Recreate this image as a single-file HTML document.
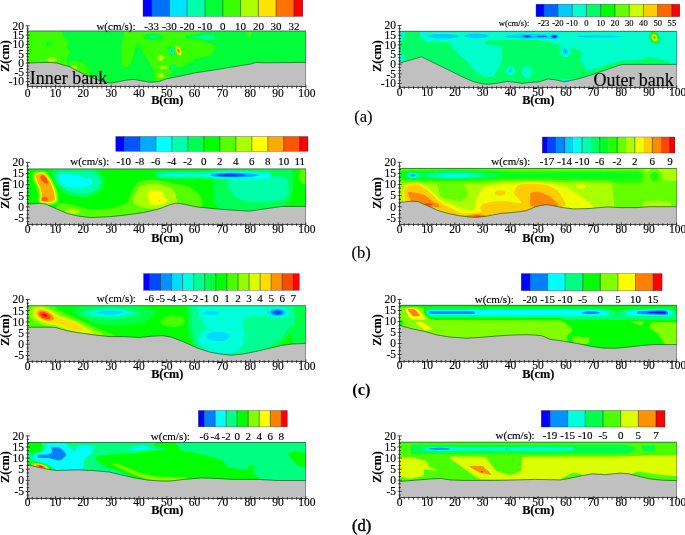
<!DOCTYPE html>
<html><head><meta charset="utf-8"><title>Vertical velocity contours</title>
<style>
html,body{margin:0;padding:0;background:#fff;}
svg{display:block;font-family:"Liberation Serif",serif;}
text{fill:#000;stroke:#000;stroke-width:0.15px;}
</style></head>
<body>
<svg width="685" height="535" viewBox="0 0 685 535">
<rect width="685" height="535" fill="#fff"/>
<g>
<clipPath id="c0"><rect x="28" y="31" width="278" height="56"/></clipPath>
<g clip-path="url(#c0)">
<rect x="28" y="31" width="278" height="56" fill="#0071ff"/>
<path d="M26.7,30 307.2,30 307.2,88 26.7,88ZM171.7,50.2 171.3,50.5 171.4,51 171.7,51.5 172.2,51.6 172.3,51Z" fill="#00e3ff"/>
<path d="M26.7,30 307.2,30 307.2,88 26.7,88ZM170.7,48.9 170.3,50 170.7,51.5 171.7,52.8 172.7,53.1 173.3,52 173,50.5 171.7,48.9Z" fill="#00ffaa"/>
<path d="M26.7,30 307.2,30 307.2,88 26.7,88ZM151.7,36 150.6,36.5 150.3,37 150.7,37.5 152.1,38 154.8,38 156.2,37.5 156.6,37 156.3,36.5 155.2,36ZM170.2,47.7 169.5,49 170,51.5 171.7,53.8 173.2,54.2 173.9,53.5 174.1,52.5 173.5,50 171.7,47.9ZM202.7,34.8 199.7,35.9 193.9,36.5 193.1,37 194.3,37.5 199.7,37.9 204.2,39 206.7,39.1 212.7,38.4 214.7,37.8 215.8,37 214.5,36 211.2,35.2 205.2,34.6ZM171.2,66.4 170.6,67.5 171.2,68.5 173.2,68.8 174.4,68 174.4,67 173.7,66.4 172.2,66.1Z" fill="#00ff39"/>
<path d="M26.7,30 61.9,30 62.7,34 63.6,36.5 67.9,40.5 68.7,42 66.8,47.5 67.4,49 69.5,51.5 69.8,52.5 69.5,53.5 67.3,56 66.6,57.5 67.4,64 67.2,65.5 65.7,66.1 59.7,66.1 55.2,65.6 48.2,65.6 44.2,65.1 37.2,65 33.2,64.6 26.7,64.6ZM48.2,41.4 46.3,42.5 45.8,43.5 46,44.5 47.1,45.5 48.2,45.9 50.7,45.4 51.8,44 51.4,42.5 50.2,41.6ZM124.5,30 200,30 200.2,32.5 199.7,33.6 198.2,34.1 191.2,34.4 186.4,35 185.7,35.5 185.6,36 185.7,38.5 186.7,39 188.7,39.3 201.2,40.1 213.7,45 215,46 215.5,47.5 215,49 212.6,53 210.7,55.1 208.7,55.8 194.7,58.9 185.2,64.9 179.7,67.7 178.7,68 177.7,67.8 176.2,65.9 174.2,64.7 171.7,64.5 169.7,65.1 169,66 169,69 169.7,69.9 172.1,71 172.4,71.5 168.2,77.4 166.7,78.9 165.2,79.8 158.7,81.8 156.7,82.1 155.5,81.5 154.7,80 152.9,70 151.5,66.5 143.5,52.5 139.2,45.8 137.2,43.8 136.2,43.9 135.5,45 134.3,52.5 130.4,65 128.7,66.6 125.2,67.6 123.5,67.5 122.4,66.5 121.7,63.5 120.7,48.5ZM150.2,33.4 146.2,34.3 143.6,36 143.3,37 143.7,38 144.9,39 146.7,39.8 151.7,40.6 157.2,40.4 161.7,39.2 163.6,37.5 163.7,36.5 162.9,35.5 160.2,34.2 155.2,33.3ZM169.7,45.9 168.9,46.5 168.3,48 168.4,50 169.1,52 170.3,54 171.7,55.4 173.2,56 174.2,55.8 175,55 175.2,53.5 174.9,51.5 174,49 173,47.5 171.7,46.3 170.7,45.9ZM248.5,31 249.7,31 250.7,31.5 251.7,33.5 251.3,36 249.7,37.4 248.7,37.4 247.7,36.9 246.6,35 246.9,32.5 247.6,31.5ZM69.7,61 71.2,60.5 79.7,62 85.2,64.4 86.2,65.7 87.4,68 90.1,74.5 90.2,76 88.7,76.3 83.7,75 77.7,71.9 72.7,71.3 70.7,70.5 69.4,69 69,67.5Z" fill="#39ff00"/>
<path d="M176.1,46 177.2,45.8 178.2,46.2 179.7,47.6 180.9,49.5 181.6,51.5 181.8,53.5 181.3,55 180.7,55.6 179.7,55.6 178.7,55.2 176.5,52.5 175.3,48.5 175.4,47ZM159.1,55.5 161.2,55.1 163.3,56 164.1,57 164.3,58 164.1,59 163.3,60 162.2,60.6 160.7,60.9 159.2,60.5 158.2,59.9 157.4,58.5 157.4,57.5 157.8,56.5ZM49.1,57.5 51.7,57 54.7,57.5 56.5,58.5 56.9,60 56.2,61 54.2,62 51.7,62.3 49.2,61.9 47.6,61 46.8,59.5 47.4,58.5ZM73.1,65 75.2,65.4 76.5,66.5 77,68 76.3,69.5 74.7,69.9 73.2,69.8 72.2,69.4 71.2,68.5 70.8,67 71.2,66 72.2,65.2ZM162.7,66 166.2,66.2 167.2,66.7 167.7,67.5 167.2,68.2 165.7,68.8 163.2,69 160.7,68.7 159.1,68 158.8,67.5 159,67 160.7,66.3ZM159.7,73 161.7,72.9 163.7,74 164.3,75.5 163.6,77 162.2,77.8 160.7,78 159.2,77.8 158,77 157.4,76 157.6,74.5 158.6,73.5Z" fill="#aaff00"/>
<path d="M176.9,47.5 178.2,47.6 179.9,49.5 180.7,52 180.7,53 180.2,53.9 179.7,54.1 178.7,53.8 176.9,51.5 176.3,49ZM159.9,57 160.7,56.8 161.7,57 162.2,57.5 162.2,58.5 161.2,59.2 160,59 159.3,58ZM161.8,67 164.7,66.8 166,67.5 164.7,68.1 162.7,68.1 161.3,67.5ZM72.8,67.5 73.7,67.2 74.3,67.5 74.3,68 73.2,68.2ZM160.1,74.5 161.7,74.6 162.2,75.1 162.1,76 161.2,76.5 159.7,76.2 159.3,75.5Z" fill="#ffe300"/>
<path d="M177.2,49 177.7,48.6 178.2,48.7 179.2,49.6 179.9,51.5 179.7,52.6 178.7,52.7 177.7,51.7 177.2,50.5Z" fill="#ff7100"/>
<path d="M178.1,50.5 178.2,50.2 178.7,50.5 178.7,51.3Z" fill="#ff0000"/>
<polygon points="25.7,88.6 25.7,63 27.7,63 38.8,62.6 50,62.4 56.6,63 69.4,66.7 83.3,74 97.2,79.7 105.6,82.3 111.2,83.1 119.5,81.6 125.1,80.3 133.4,79.4 139,80.3 150.1,82.3 158.5,81.6 166.8,78.8 180.7,76 194.6,73 222.4,68.6 250.3,64.1 255.8,62.4 264.2,62.8 305.9,62.4 307.9,62.4 307.9,88.6" fill="#c0c0c0"/>
<polyline points="27.7,63 38.8,62.6 50,62.4 56.6,63 69.4,66.7 83.3,74 97.2,79.7 105.6,82.3 111.2,83.1 119.5,81.6 125.1,80.3 133.4,79.4 139,80.3 150.1,82.3 158.5,81.6 166.8,78.8 180.7,76 194.6,73 222.4,68.6 250.3,64.1 255.8,62.4 264.2,62.8 305.9,62.4" fill="none" stroke="#1a5a1a" stroke-width="0.7"/>
</g>
<line x1="27.7" x2="305.9" y1="31" y2="31" stroke="#1d5c3a" stroke-width="0.9" opacity="0.85"/>
<line x1="305.5" x2="305.5" y1="31" y2="86.6" stroke="#444" stroke-width="0.6" opacity="0.7"/>
<path d="M27.5,25.8V86.5H305.9" stroke="#3a3a3a" stroke-width="0.9" fill="none"/>
<path d="M25.7,25.8h4M26.5,28.9h2.6M26.5,32h2.6M25.7,35.1h4M26.5,38.2h2.6M26.5,41.3h2.6M25.7,44.4h4M26.5,47.5h2.6M26.5,50.6h2.6M25.7,53.7h4M26.5,56.8h2.6M26.5,59.9h2.6M25.7,63h4M26.5,66.1h2.6M26.5,69.2h2.6M25.7,72.3h4M26.5,75.4h2.6M26.5,78.5h2.6M25.7,81.6h4M26.5,84.7h2.6M27.7,84.8v3.8M32.3,85.6v2.8M37,85.6v2.8M41.6,85.6v2.8M46.2,85.6v2.8M50.9,85.6v2.8M55.5,84.8v3.8M60.2,85.6v2.8M64.8,85.6v2.8M69.4,85.6v2.8M74.1,85.6v2.8M78.7,85.6v2.8M83.3,84.8v3.8M88,85.6v2.8M92.6,85.6v2.8M97.2,85.6v2.8M101.9,85.6v2.8M106.5,85.6v2.8M111.2,84.8v3.8M115.8,85.6v2.8M120.4,85.6v2.8M125.1,85.6v2.8M129.7,85.6v2.8M134.3,85.6v2.8M139,84.8v3.8M143.6,85.6v2.8M148.3,85.6v2.8M152.9,85.6v2.8M157.5,85.6v2.8M162.2,85.6v2.8M166.8,84.8v3.8M171.4,85.6v2.8M176.1,85.6v2.8M180.7,85.6v2.8M185.3,85.6v2.8M190,85.6v2.8M194.6,84.8v3.8M199.3,85.6v2.8M203.9,85.6v2.8M208.5,85.6v2.8M213.2,85.6v2.8M217.8,85.6v2.8M222.4,84.8v3.8M227.1,85.6v2.8M231.7,85.6v2.8M236.3,85.6v2.8M241,85.6v2.8M245.6,85.6v2.8M250.3,84.8v3.8M254.9,85.6v2.8M259.5,85.6v2.8M264.2,85.6v2.8M268.8,85.6v2.8M273.4,85.6v2.8M278.1,84.8v3.8M282.7,85.6v2.8M287.4,85.6v2.8M292,85.6v2.8M296.6,85.6v2.8M301.3,85.6v2.8M305.9,84.8v3.8" stroke="#222" stroke-width="0.85" fill="none"/>
<text x="24.1" y="29.6" font-size="11.5" text-anchor="end">20</text>
<text x="24.1" y="38.9" font-size="11.5" text-anchor="end">15</text>
<text x="24.1" y="48.2" font-size="11.5" text-anchor="end">10</text>
<text x="24.1" y="57.5" font-size="11.5" text-anchor="end">5</text>
<text x="24.1" y="66.8" font-size="11.5" text-anchor="end">0</text>
<text x="24.1" y="76.1" font-size="11.5" text-anchor="end">-5</text>
<text x="24.1" y="85.4" font-size="11.5" text-anchor="end">-10</text>
<text x="27.7" y="96.5" font-size="11.5" text-anchor="middle">0</text>
<text x="55.5" y="96.5" font-size="11.5" text-anchor="middle">10</text>
<text x="83.3" y="96.5" font-size="11.5" text-anchor="middle">20</text>
<text x="111.2" y="96.5" font-size="11.5" text-anchor="middle">30</text>
<text x="139" y="96.5" font-size="11.5" text-anchor="middle">40</text>
<text x="166.8" y="96.5" font-size="11.5" text-anchor="middle">50</text>
<text x="194.6" y="96.5" font-size="11.5" text-anchor="middle">60</text>
<text x="222.4" y="96.5" font-size="11.5" text-anchor="middle">70</text>
<text x="250.3" y="96.5" font-size="11.5" text-anchor="middle">80</text>
<text x="278.1" y="96.5" font-size="11.5" text-anchor="middle">90</text>
<text x="306.9" y="96.5" font-size="11.5" text-anchor="middle">100</text>
<text transform="translate(9.3,56) rotate(-90)" font-size="12" font-weight="bold" text-anchor="middle">Z(cm)</text>
<text x="167.2" y="104.4" font-size="12.3" font-weight="bold" text-anchor="middle">B(cm)</text>
<rect x="143" y="-1" width="9" height="17.4" fill="#0000ff"/>
<rect x="151.7" y="-1" width="18.1" height="17.4" fill="#0071ff"/>
<rect x="169.5" y="-1" width="18.1" height="17.4" fill="#00e3ff"/>
<rect x="187.2" y="-1" width="18.1" height="17.4" fill="#00ffaa"/>
<rect x="205" y="-1" width="18.1" height="17.4" fill="#00ff39"/>
<rect x="222.8" y="-1" width="18.1" height="17.4" fill="#39ff00"/>
<rect x="240.6" y="-1" width="18.1" height="17.4" fill="#aaff00"/>
<rect x="258.4" y="-1" width="18.1" height="17.4" fill="#ffe300"/>
<rect x="276.1" y="-1" width="18.1" height="17.4" fill="#ff7100"/>
<rect x="293.9" y="-1" width="9" height="17.4" fill="#ff0000"/>
<path d="M151.7,-1V16.4M169.5,-1V16.4M187.2,-1V16.4M205,-1V16.4M222.8,-1V16.4M240.6,-1V16.4M258.4,-1V16.4M276.1,-1V16.4M293.9,-1V16.4" stroke="#123" stroke-width="0.6" fill="none" opacity="0.85"/>
<rect x="143" y="-1" width="159.6" height="17.4" fill="none" stroke="#334" stroke-width="0.5" opacity="0.7"/>
<text x="151.7" y="29.5" font-size="11" text-anchor="middle">-33</text>
<text x="169.5" y="29.5" font-size="11" text-anchor="middle">-30</text>
<text x="187.2" y="29.5" font-size="11" text-anchor="middle">-20</text>
<text x="205" y="29.5" font-size="11" text-anchor="middle">-10</text>
<text x="222.8" y="29.5" font-size="11" text-anchor="middle">0</text>
<text x="240.6" y="29.5" font-size="11" text-anchor="middle">10</text>
<text x="258.4" y="29.5" font-size="11" text-anchor="middle">20</text>
<text x="276.1" y="29.5" font-size="11" text-anchor="middle">30</text>
<text x="293.9" y="29.5" font-size="11" text-anchor="middle">32</text>
<text x="135.5" y="29.5" font-size="11" text-anchor="end">w(cm/s):</text>
<text x="29.7" y="84" font-size="18">Inner bank</text>
</g>
<g>
<clipPath id="c1"><rect x="400" y="31" width="277" height="56"/></clipPath>
<g clip-path="url(#c1)">
<rect x="400" y="31" width="277" height="56" fill="#0000ff"/>
<path d="M398.6,30.3 678.1,30.3 678.1,88.3 398.6,88.3ZM526.1,36.1 525.7,36.3 525.9,36.8 527.1,37 528.3,36.8 528.5,36.3 527.1,35.9ZM553.6,35.7 552.7,36.3 552.7,36.8 553.5,37.3 555.1,37.3 555.9,36.8 555.9,36.3 555.3,35.8Z" fill="#0066ff"/>
<path d="M398.6,30.3 678.1,30.3 678.1,88.3 398.6,88.3ZM525.1,35.3 522.9,36.3 523.1,36.8 524,37.3 525.6,37.7 529.6,37.5 531.6,36.8 531.7,36.3 528.6,35.2ZM539.6,35.8 536.2,36.3 536.4,36.8 540.1,37.3 545.1,37.1 546.6,36.8 546.7,36.3 544.1,35.8ZM552.6,35.2 550.6,36.3 550.7,36.8 552.6,37.9 555.6,38 556.6,37.6 557.3,36.8 557,35.8 556.1,35.2 554.6,34.9ZM564.6,50.6 564.6,52 565.1,52.4 565.8,52.3 566.2,51.8 566,50.8 565.1,50.4Z" fill="#00ccff"/>
<path d="M398.6,30.3 678.1,30.3 678.1,88.3 398.6,88.3ZM434.6,34.3 429.1,35.2 427.6,35.8 427.2,36.3 427.5,36.8 429.6,37.6 435.6,38.5 443.1,38.7 450.1,38.4 456.6,37.4 459.3,36.3 458.8,35.8 457.2,35.3 449.6,34.2 442.1,33.9ZM472.6,33.8 467.6,34.6 464.4,35.8 464.3,36.3 465.4,36.8 469.9,37.8 475.1,38.3 481.1,38.2 486.6,37.3 488.7,36.3 488.6,35.8 487.6,35.1 483.6,34 478.1,33.6ZM523.1,34.3 511.6,34.9 505.4,35.8 504.1,36.3 504.2,36.8 509.6,37.7 527.1,38.6 549.1,38.4 554.6,39.2 557.6,38.4 559.4,36.8 559.2,35.8 558.1,34.9 555.1,33.9 549.1,34.7 527.6,34ZM564.1,48.5 563.1,49.3 562.6,50.3 562.8,52.3 563.6,53.6 564.6,54.2 566.6,54.2 567.9,52.8 568.1,51.8 567.8,50.3 566.1,48.6ZM591.1,35.3 581.6,35.7 576.5,36.3 576.7,36.8 578.6,37.1 587.6,37.6 611.6,37.6 619.6,37 621.1,36.8 621.3,36.3 610.6,35.4ZM510.1,68.7 509.1,69.4 508.7,70.8 509.3,72.3 510.6,72.8 511.9,71.8 512.1,70.3 511.6,69.2ZM565.1,80.2 564.8,80.8 567,81.3 570.8,80.8 570.7,80.3 569.1,79.9Z" fill="#00ffcc"/>
<path d="M404.9,30.3 418.9,30.3 420.1,36.8 424.1,40.6 426.1,41.8 446.6,42.1 448.6,42.5 449.6,43.3 453.1,49 459.9,55.8 467.1,60.9 473.1,68.8 481.6,75.3 484.6,76.5 491.1,77 492.6,76.8 493.6,76.3 500.5,64.3 501.4,62.3 501.8,60.3 501.8,48.8 501.2,46.8 499.6,46.1 486.1,44.2 485.2,43.3 485.2,41.8 486.1,40.9 487.6,40.6 523.6,39.6 537.5,40.3 545.1,41.1 555.6,43.7 560.4,45.8 561,46.8 559.6,50.3 559.9,53.3 560.7,54.8 562.1,56.2 563.6,57 565.1,57.3 567.6,56.9 569.7,55.3 571,52.3 570.5,48.3 571.1,47.7 572.6,47.8 578.1,50.1 581.4,52.3 581.7,53.8 580.4,58.3 580.4,60.3 584.6,66.8 585.1,69.8 586.1,70.3 587.6,70.2 621.1,60.7 626.1,60.3 630.1,60.5 642.1,59.4 648.6,56.5 667.6,60.7 668.9,61.8 670.4,64.8 669.8,65.8 668.6,66 623.6,66.2 585.6,78.2 578.1,81.5 568.6,87.2 567.7,88.3 399.2,88.3 399.3,65.3 400.1,63.8 404.1,60.8 404.6,59.8 404.8,57.8 404.7,55.8 404.1,54.5 400.6,52.5 399.5,51.3 399.2,49.3 399.2,42.8 400.1,41.1 403.6,40.2 404.5,39.3 404.8,37.8ZM509.1,66.2 507.6,67 506.5,68.3 505.9,69.8 506,71.8 506.6,73.3 508.1,74.8 509.6,75.4 511.6,75.3 513.1,74.6 514.4,73.3 515.1,71.8 515.1,69.8 514.1,67.8 512.6,66.5 511.1,66ZM525.6,66.2 523.8,67.3 522.6,68.8 521.8,70.8 521.9,73.3 522.8,75.3 524.1,76.8 526.1,77.7 528.1,77.7 530.1,76.7 531.6,74.8 532.2,72.8 532.1,70.3 531.2,68.3 529.6,66.7 527.6,66ZM564.1,79.2 561.8,79.8 561,80.3 560.9,80.8 562.1,81.5 564.1,82 570.6,82.1 573.6,81.5 574.7,80.8 574.6,80.3 573.8,79.8 571.1,79.2 567.6,79ZM652.1,30.8 654.6,30.9 656.6,32 658.3,33.8 659.8,36.8 660.2,39.3 659.8,41.8 658.6,43.7 657.1,44.5 655.1,44.6 652.6,43.5 650.6,41.3 649.3,38.8 648.9,36.3 649.2,33.8 650.3,31.8Z" fill="#00ff66"/>
<path d="M652.1,32.8 653.6,32.4 655.1,32.8 656.6,33.9 658,35.8 658.7,37.8 658.7,39.8 658.2,41.3 657.1,42.5 655.6,42.9 654.1,42.6 652.6,41.6 651.2,39.8 650.4,37.8 650.3,35.8 651,33.8ZM582.3,72.3 583.1,72 583.9,72.8 583.1,75.8 582.6,76.2 582,73.8Z" fill="#00ff00"/>
<path d="M652.6,33.8 653.6,33.5 655.1,33.9 656.3,34.8 657.3,36.3 657.9,39.3 657.3,40.8 656.6,41.5 655.6,41.8 654.1,41.5 653,40.8 651.9,39.3 651.3,37.8 651.2,35.8 651.6,34.8Z" fill="#66ff00"/>
<path d="M652.8,34.8 653.6,34.4 654.6,34.5 655.6,35.1 656.6,36.3 657.2,38.8 656.9,39.8 656.1,40.7 655.1,40.9 654.1,40.7 652.6,39.2 651.9,36.8 652.1,35.7Z" fill="#ccff00"/>
<path d="M654.1,35.3 655.3,35.8 656.3,37.3 656.4,38.8 655.6,39.9 654.1,39.8 653.1,38.8 652.7,37.8 652.6,36.8 653,35.8Z" fill="#ffcc00"/>
<path d="M653.6,36.8 654.1,36.4 655.1,36.8 655.6,37.8 655.2,38.8 654.1,38.7 653.5,37.8Z" fill="#ff6600"/>
<polygon points="397.6,89.3 397.6,63.1 399.6,63.1 421.5,56.8 447.8,69.6 464.7,77.9 473.3,81.6 481.9,83.7 488.3,84.3 496.6,83.3 507.1,81.4 513.5,82.1 522.1,83.3 534.8,82.1 538.1,82.1 547.8,79 554.2,79.6 564.8,81.8 577.5,79 590,75.4 604.9,70.2 619.6,65.1 624.1,64.4 676.7,64.4 678.7,64.4 678.7,89.3" fill="#c0c0c0"/>
<polyline points="399.6,63.1 421.5,56.8 447.8,69.6 464.7,77.9 473.3,81.6 481.9,83.7 488.3,84.3 496.6,83.3 507.1,81.4 513.5,82.1 522.1,83.3 534.8,82.1 538.1,82.1 547.8,79 554.2,79.6 564.8,81.8 577.5,79 590,75.4 604.9,70.2 619.6,65.1 624.1,64.4 676.7,64.4" fill="none" stroke="#1a5a1a" stroke-width="0.7"/>
</g>
<line x1="399.6" x2="676.7" y1="31.3" y2="31.3" stroke="#1d5c3a" stroke-width="0.9" opacity="0.85"/>
<line x1="676.5" x2="676.5" y1="31.3" y2="87.3" stroke="#444" stroke-width="0.6" opacity="0.7"/>
<path d="M399.5,25.5V87.5H676.7" stroke="#3a3a3a" stroke-width="0.9" fill="none"/>
<path d="M397.6,25.5h4M398.4,28.7h2.6M398.4,31.9h2.6M397.6,35.2h4M398.4,38.4h2.6M398.4,41.6h2.6M397.6,44.8h4M398.4,48.1h2.6M398.4,51.3h2.6M397.6,54.5h4M398.4,57.7h2.6M398.4,60.9h2.6M397.6,64.2h4M398.4,67.4h2.6M398.4,70.6h2.6M397.6,73.8h4M398.4,77h2.6M398.4,80.3h2.6M397.6,83.5h4M398.4,86.7h2.6M399.6,85.5v3.8M404.2,86.3v2.8M408.8,86.3v2.8M413.5,86.3v2.8M418.1,86.3v2.8M422.7,86.3v2.8M427.3,85.5v3.8M431.9,86.3v2.8M436.5,86.3v2.8M441.2,86.3v2.8M445.8,86.3v2.8M450.4,86.3v2.8M455,85.5v3.8M459.6,86.3v2.8M464.3,86.3v2.8M468.9,86.3v2.8M473.5,86.3v2.8M478.1,86.3v2.8M482.7,85.5v3.8M487.3,86.3v2.8M492,86.3v2.8M496.6,86.3v2.8M501.2,86.3v2.8M505.8,86.3v2.8M510.4,85.5v3.8M515.1,86.3v2.8M519.7,86.3v2.8M524.3,86.3v2.8M528.9,86.3v2.8M533.5,86.3v2.8M538.1,85.5v3.8M542.8,86.3v2.8M547.4,86.3v2.8M552,86.3v2.8M556.6,86.3v2.8M561.2,86.3v2.8M565.9,85.5v3.8M570.5,86.3v2.8M575.1,86.3v2.8M579.7,86.3v2.8M584.3,86.3v2.8M589,86.3v2.8M593.6,85.5v3.8M598.2,86.3v2.8M602.8,86.3v2.8M607.4,86.3v2.8M612,86.3v2.8M616.7,86.3v2.8M621.3,85.5v3.8M625.9,86.3v2.8M630.5,86.3v2.8M635.1,86.3v2.8M639.8,86.3v2.8M644.4,86.3v2.8M649,85.5v3.8M653.6,86.3v2.8M658.2,86.3v2.8M662.8,86.3v2.8M667.5,86.3v2.8M672.1,86.3v2.8M676.7,85.5v3.8" stroke="#222" stroke-width="0.85" fill="none"/>
<text x="396" y="29.3" font-size="11.5" text-anchor="end">20</text>
<text x="396" y="39" font-size="11.5" text-anchor="end">15</text>
<text x="396" y="48.6" font-size="11.5" text-anchor="end">10</text>
<text x="396" y="58.3" font-size="11.5" text-anchor="end">5</text>
<text x="396" y="68" font-size="11.5" text-anchor="end">0</text>
<text x="396" y="77.6" font-size="11.5" text-anchor="end">-5</text>
<text x="396" y="87.3" font-size="11.5" text-anchor="end">-10</text>
<text x="399.6" y="96" font-size="11.5" text-anchor="middle">0</text>
<text x="427.3" y="96" font-size="11.5" text-anchor="middle">10</text>
<text x="455" y="96" font-size="11.5" text-anchor="middle">20</text>
<text x="482.7" y="96" font-size="11.5" text-anchor="middle">30</text>
<text x="510.4" y="96" font-size="11.5" text-anchor="middle">40</text>
<text x="538.1" y="96" font-size="11.5" text-anchor="middle">50</text>
<text x="565.9" y="96" font-size="11.5" text-anchor="middle">60</text>
<text x="593.6" y="96" font-size="11.5" text-anchor="middle">70</text>
<text x="621.3" y="96" font-size="11.5" text-anchor="middle">80</text>
<text x="649" y="96" font-size="11.5" text-anchor="middle">90</text>
<text x="677.7" y="96" font-size="11.5" text-anchor="middle">100</text>
<text transform="translate(381,56) rotate(-90)" font-size="12" font-weight="bold" text-anchor="middle">Z(cm)</text>
<text x="538.2" y="104.2" font-size="12.3" font-weight="bold" text-anchor="middle">B(cm)</text>
<rect x="536" y="4.2" width="8" height="12.5" fill="#0000ff"/>
<rect x="543.7" y="4.2" width="14.5" height="12.5" fill="#0066ff"/>
<rect x="557.9" y="4.2" width="14.5" height="12.5" fill="#00ccff"/>
<rect x="572.2" y="4.2" width="14.5" height="12.5" fill="#00ffcc"/>
<rect x="586.4" y="4.2" width="14.5" height="12.5" fill="#00ff66"/>
<rect x="600.7" y="4.2" width="14.5" height="12.5" fill="#00ff00"/>
<rect x="614.9" y="4.2" width="14.5" height="12.5" fill="#66ff00"/>
<rect x="629.2" y="4.2" width="14.5" height="12.5" fill="#ccff00"/>
<rect x="643.4" y="4.2" width="14.5" height="12.5" fill="#ffcc00"/>
<rect x="657.7" y="4.2" width="14.5" height="12.5" fill="#ff6600"/>
<rect x="671.9" y="4.2" width="8" height="12.5" fill="#ff0000"/>
<path d="M543.7,4.2V16.7M557.9,4.2V16.7M572.2,4.2V16.7M586.4,4.2V16.7M600.7,4.2V16.7M614.9,4.2V16.7M629.2,4.2V16.7M643.4,4.2V16.7M657.7,4.2V16.7M671.9,4.2V16.7" stroke="#123" stroke-width="0.6" fill="none" opacity="0.85"/>
<rect x="536" y="4.2" width="143.6" height="12.5" fill="none" stroke="#334" stroke-width="0.5" opacity="0.7"/>
<text x="543.7" y="26.3" font-size="8.6" text-anchor="middle">-23</text>
<text x="557.9" y="26.3" font-size="8.6" text-anchor="middle">-20</text>
<text x="572.2" y="26.3" font-size="8.6" text-anchor="middle">-10</text>
<text x="586.4" y="26.3" font-size="8.6" text-anchor="middle">0</text>
<text x="600.7" y="26.3" font-size="8.6" text-anchor="middle">10</text>
<text x="614.9" y="26.3" font-size="8.6" text-anchor="middle">20</text>
<text x="629.2" y="26.3" font-size="8.6" text-anchor="middle">30</text>
<text x="643.4" y="26.3" font-size="8.6" text-anchor="middle">40</text>
<text x="657.7" y="26.3" font-size="8.6" text-anchor="middle">50</text>
<text x="671.9" y="26.3" font-size="8.6" text-anchor="middle">55</text>
<text x="529.3" y="26.3" font-size="8.6" text-anchor="end">w(cm/s):</text>
<text x="593.4" y="85.8" font-size="18">Outer bank</text>
</g>
<g>
<clipPath id="c2"><rect x="28" y="169" width="278" height="55"/></clipPath>
<g clip-path="url(#c2)">
<rect x="28" y="169" width="278" height="55" fill="#0000ff"/>
<path d="M26.7,167.9 307.2,167.9 307.2,225.4 26.7,225.4ZM226.2,174.4 222.9,174.9 223.6,175.4 225.7,175.6 232.2,175.6 233.9,175.4 234.8,174.9 231.6,174.4Z" fill="#0055ff"/>
<path d="M26.7,167.9 307.2,167.9 307.2,225.4 26.7,225.4ZM219.7,173.9 216.8,174.4 215.8,174.9 216,175.4 218.7,176.1 223.7,176.5 236.7,176.5 242.2,175.9 245,175.4 245.9,174.9 244.8,174.4 241.7,174 234.7,173.5 226.7,173.5Z" fill="#00aaff"/>
<path d="M26.7,167.9 307.2,167.9 307.2,225.4 26.7,225.4ZM222.2,172.9 213.2,173.7 210.7,174.4 210.1,174.9 210.4,175.4 213.3,176.4 220.2,177.1 233.2,177.6 251.2,176.7 257.5,175.9 258.8,175.4 259,174.9 255.2,173.9 247.2,173.2 233.2,172.7Z" fill="#00ffff"/>
<path d="M26.7,167.9 307.2,167.9 307.2,225.4 26.7,225.4ZM64.2,173.9 60.8,174.4 59.2,175.4 58.6,177.4 59.1,179.9 60.3,181.9 62.2,183.7 64.7,185.1 69.2,186.9 72.7,187.6 75.2,187.6 84.7,187 88.7,184.9 89.7,184.9 93.2,182.9 93.2,181.9 92.7,181.4 92.7,180.9 90.7,178.9 89.2,178.8 88.7,178.3 84.7,177.8 72.2,174.5ZM215.7,172.4 197.2,174.4 180.7,173.7 169.2,173.9 164,174.4 162,174.9 163.3,175.4 167.5,175.9 179.7,176.3 197.7,175.5 210.2,176.8 216.2,177.8 228.2,178.2 233.7,179 267.2,178.6 268.7,178.1 269.4,176.9 269.3,175.4 268.7,174.1 267.7,173.4 266.2,173.2 239.2,172 225.7,172Z" fill="#00ffaa"/>
<path d="M26.7,167.9 307.2,167.9 307.2,225.4 26.7,225.4ZM59.2,171.4 56.7,172.6 55.6,174.9 55.7,177.9 57.1,181.9 58.9,184.4 61.8,186.9 67.2,190.8 71.2,192.6 82.2,194.1 87.2,193.6 93.8,190.9 97.2,188.9 99.2,186.8 100.6,183.9 100.8,180.9 99.6,177.9 96.5,174.4 94.6,172.9 92.7,172 88.2,171.4 65.2,171ZM218.2,170.9 215.7,171.1 210.7,172 203.7,172.3 159.7,172.6 157.7,173.3 156.9,174.4 157,175.9 158.4,176.9 166.7,177.4 205.2,177.7 211.2,178 216.7,179.3 227.7,179.6 228.6,179.9 229.2,180.9 228,185.4 228.4,187.4 235.4,196.9 236.7,197.9 239,198.9 249.7,202.1 255.2,202.1 282.2,199.9 283.7,199.3 285.2,198.1 287.7,195.1 288.7,193.3 288.9,191.4 288.7,188.9 287.1,179.9 286.2,177.7 284.2,176.7 273.2,176 272.2,175.3 270.3,172.4 268.7,171.5 265.7,171.2 245.7,170.8Z" fill="#00ff55"/>
<path d="M26.7,167.9 56.4,167.9 54.7,169 53,170.9 52.3,172.9 52.1,174.9 52.8,177.4 54.8,182.4 56.2,185 58.2,187.8 64.3,192.9 68.7,195.4 73.2,196.5 83.2,197.6 86.2,197.4 89.2,196.6 97.7,192.7 101.3,189.9 102.6,187.9 103.7,185.4 104.3,182.9 104.3,180.4 104,178.9 102.8,176.4 97.8,170.9 95.2,169.1 92.7,167.9 213.4,167.9 213.2,169.4 212.8,169.9 211.7,170.5 210.2,170.8 158.2,171.1 156.2,171.7 155.2,172.4 154.4,173.9 154.4,175.9 155.2,177.2 156.2,177.9 160.2,178.6 209.2,179.2 212.2,179.8 213.2,180.8 213.4,181.9 213.5,199.4 213.9,202.4 215.7,205.3 221.2,212.2 223.2,213.1 226.2,213.2 271.2,211 274.4,209.9 287.2,203.5 288.7,202.3 289.8,200.4 291.8,193.4 294.1,182.4 294.2,179.4 292,167.9 307.2,167.9 307.2,225.4 26.7,225.4Z" fill="#00ff00"/>
<path d="M301.8,168.4 302.5,167.9 307.2,167.9 307.2,184.4 304.7,184.5 302.2,183.4 300.2,181.4 299,178.9 298.5,175.9 298.9,172.9 300,170.4ZM38.3,170.9 42.7,170.6 45.7,171.6 48.1,173.9 52,179.4 56.6,189.4 57.6,192.4 58.6,199.9 58.2,201.9 57.2,203.1 51.7,205.2 48.7,205.6 41.7,204.7 39.7,203.8 38.4,202.4 37.7,199.9 38.4,195.9 38.2,192.9 36.7,187.8 32.9,179.4 32,174.9 32.5,172.9 33.6,171.9ZM151.1,179.4 153.2,179.4 163.2,181 173.2,183.4 186.7,185.6 190.1,186.9 198.2,193.5 199.9,195.4 200.7,196.9 202.3,202.9 202.4,204.9 201.3,206.9 199.3,207.9 167.2,214 139.2,218.3 90.7,222.6 86.2,222.4 62.7,218.6 60.7,217.7 59.2,216.4 55.9,210.9 55.7,208.4 57.2,205.6 58.7,203.7 60.2,202.9 61.7,202.6 64.7,202.9 86.2,208.6 90.2,209.2 96.2,209.2 109.7,208.5 122.8,204.9 125.7,203.6 127.2,202 132,190.9 135.7,184.9 137.7,182.6 139.2,181.6 141.7,180.8Z" fill="#55ff00"/>
<path d="M40.5,171.9 42.7,171.9 44.2,172.3 46.9,174.4 51.4,180.4 55.4,189.4 56.5,193.9 57.1,199.9 56.7,200.9 55.8,201.9 52.2,203.6 48.7,204.3 42.7,203.6 40.7,202.8 39.2,200.9 39,199.4 39.7,194.9 39.2,191.4 37.8,186.9 34.5,179.9 33.4,175.4 33.8,173.9 35,172.9ZM150,183.9 155.2,183.7 160.7,184.6 168.2,187 171.7,188.6 173.5,189.9 175.7,193.4 176,197.9 177.3,200.4 177,202.4 175.7,204.9 173.7,206.1 162.7,208.1 156.2,208.7 151.2,208.8 146.2,208.2 141.7,207.1 137.7,205.6 134.2,203.4 133.4,202.4 133.1,200.9 133.7,197.3 135.7,192.4 138.7,187.9 140.1,186.4 141.8,185.4ZM70.8,208.4 74.2,208.6 77.1,209.4 78.8,210.4 79.5,211.9 78,213.4 74.7,214.4 70.7,214.5 67.2,213.7 65.1,212.4 64.7,211.4 65.1,210.4 67.2,209Z" fill="#aaff00"/>
<path d="M40.3,172.9 43.2,172.9 45.2,173.9 49.8,179.4 51.2,181.9 54.8,190.4 56.1,197.9 56.1,199.4 55.7,200.4 53.2,202.1 50.2,203.1 47.2,203.2 42.2,202.5 41,201.9 40.2,200.9 39.9,199.4 40.7,195.4 40.3,191.9 38.8,186.9 35.4,179.4 34.5,175.9 34.7,174.8 35.5,173.9ZM150.1,190.4 156.2,190.2 161.4,190.9 162.6,192.4 164.2,197.3 167.4,199.9 167.5,200.9 164.6,202.9 160.2,204.5 152.7,204.7 151.1,204.4 150.1,202.9 148.1,196.4 148.5,192.4 149.2,191ZM70.2,210.9 72.7,210.5 74.1,210.9 74.4,211.4 73.7,212 71.7,212.3 70.4,211.9 70,211.4Z" fill="#ffff00"/>
<path d="M40.3,173.9 42.7,173.7 44.7,174.6 46.7,176.8 49.8,181.4 53.2,189.4 54.2,192.9 54.9,198.9 54.5,199.9 53.2,200.9 49.2,202.1 44.7,202.1 42.2,201.6 40.9,200.4 40.8,198.9 41.9,194.9 41.5,191.9 40.1,186.9 36.7,179.7 35.8,176.4 36,175.4 36.5,174.9ZM159,199.9 159.7,199.5 160.2,200.3 160.2,201 159.7,201.8 159,201.4Z" fill="#ffaa00"/>
<path d="M41.1,175.4 42.2,175 43.7,175.2 45.9,177.4 47.1,179.4 47.9,181.4 47.8,182.9 47.2,183.6 46.2,183.7 44.7,183.2 42.2,180.9 40.9,178.9 40.2,176.9 40.5,175.9ZM43.4,196.9 44.7,196.5 46.7,197.4 47.9,198.9 47.7,199.9 46.7,200.5 44.7,201 43.2,200.9 42.2,200.4 41.9,198.9 42.7,197.5Z" fill="#ff5500"/>
<polygon points="25.7,226.3 25.7,204.2 27.7,204.2 39.9,203.3 46.1,204.2 56.6,208.9 67.2,213.4 77.8,216 90.6,217.6 109.8,216.7 126.7,214.9 143.4,212.5 156.2,209.6 162.9,207.6 169.6,204.7 175.7,203.1 184,204.2 196.8,206.9 216,208.9 232.7,210.2 249.7,211.1 264.7,208.9 281.4,206.5 305.9,206.5 307.9,206.5 307.9,226.3" fill="#c0c0c0"/>
<polyline points="27.7,204.2 39.9,203.3 46.1,204.2 56.6,208.9 67.2,213.4 77.8,216 90.6,217.6 109.8,216.7 126.7,214.9 143.4,212.5 156.2,209.6 162.9,207.6 169.6,204.7 175.7,203.1 184,204.2 196.8,206.9 216,208.9 232.7,210.2 249.7,211.1 264.7,208.9 281.4,206.5 305.9,206.5" fill="none" stroke="#1a5a1a" stroke-width="0.7"/>
</g>
<line x1="27.7" x2="305.9" y1="168.9" y2="168.9" stroke="#1d5c3a" stroke-width="0.9" opacity="0.85"/>
<line x1="305.5" x2="305.5" y1="168.9" y2="224.3" stroke="#444" stroke-width="0.6" opacity="0.7"/>
<path d="M27.5,162.4V224.5H305.9" stroke="#3a3a3a" stroke-width="0.9" fill="none"/>
<path d="M25.7,162.4h4M26.5,166.1h2.6M26.5,169.8h2.6M25.7,173.5h4M26.5,177.2h2.6M26.5,180.9h2.6M25.7,184.7h4M26.5,188.4h2.6M26.5,192.1h2.6M25.7,195.8h4M26.5,199.5h2.6M26.5,203.2h2.6M25.7,206.9h4M26.5,210.6h2.6M26.5,214.3h2.6M25.7,218h4M26.5,221.7h2.6M27.7,222.5v3.8M32.3,223.3v2.8M37,223.3v2.8M41.6,223.3v2.8M46.2,223.3v2.8M50.9,223.3v2.8M55.5,222.5v3.8M60.2,223.3v2.8M64.8,223.3v2.8M69.4,223.3v2.8M74.1,223.3v2.8M78.7,223.3v2.8M83.3,222.5v3.8M88,223.3v2.8M92.6,223.3v2.8M97.2,223.3v2.8M101.9,223.3v2.8M106.5,223.3v2.8M111.2,222.5v3.8M115.8,223.3v2.8M120.4,223.3v2.8M125.1,223.3v2.8M129.7,223.3v2.8M134.3,223.3v2.8M139,222.5v3.8M143.6,223.3v2.8M148.3,223.3v2.8M152.9,223.3v2.8M157.5,223.3v2.8M162.2,223.3v2.8M166.8,222.5v3.8M171.4,223.3v2.8M176.1,223.3v2.8M180.7,223.3v2.8M185.3,223.3v2.8M190,223.3v2.8M194.6,222.5v3.8M199.3,223.3v2.8M203.9,223.3v2.8M208.5,223.3v2.8M213.2,223.3v2.8M217.8,223.3v2.8M222.4,222.5v3.8M227.1,223.3v2.8M231.7,223.3v2.8M236.3,223.3v2.8M241,223.3v2.8M245.6,223.3v2.8M250.3,222.5v3.8M254.9,223.3v2.8M259.5,223.3v2.8M264.2,223.3v2.8M268.8,223.3v2.8M273.4,223.3v2.8M278.1,222.5v3.8M282.7,223.3v2.8M287.4,223.3v2.8M292,223.3v2.8M296.6,223.3v2.8M301.3,223.3v2.8M305.9,222.5v3.8" stroke="#222" stroke-width="0.85" fill="none"/>
<text x="24.1" y="166.2" font-size="11.5" text-anchor="end">20</text>
<text x="24.1" y="177.3" font-size="11.5" text-anchor="end">15</text>
<text x="24.1" y="188.4" font-size="11.5" text-anchor="end">10</text>
<text x="24.1" y="199.6" font-size="11.5" text-anchor="end">5</text>
<text x="24.1" y="210.7" font-size="11.5" text-anchor="end">0</text>
<text x="24.1" y="221.8" font-size="11.5" text-anchor="end">-5</text>
<text x="27.7" y="233.3" font-size="11.5" text-anchor="middle">0</text>
<text x="55.5" y="233.3" font-size="11.5" text-anchor="middle">10</text>
<text x="83.3" y="233.3" font-size="11.5" text-anchor="middle">20</text>
<text x="111.2" y="233.3" font-size="11.5" text-anchor="middle">30</text>
<text x="139" y="233.3" font-size="11.5" text-anchor="middle">40</text>
<text x="166.8" y="233.3" font-size="11.5" text-anchor="middle">50</text>
<text x="194.6" y="233.3" font-size="11.5" text-anchor="middle">60</text>
<text x="222.4" y="233.3" font-size="11.5" text-anchor="middle">70</text>
<text x="250.3" y="233.3" font-size="11.5" text-anchor="middle">80</text>
<text x="278.1" y="233.3" font-size="11.5" text-anchor="middle">90</text>
<text x="306.9" y="233.3" font-size="11.5" text-anchor="middle">100</text>
<text transform="translate(9.3,193) rotate(-90)" font-size="12" font-weight="bold" text-anchor="middle">Z(cm)</text>
<text x="167.2" y="241.6" font-size="12.3" font-weight="bold" text-anchor="middle">B(cm)</text>
<rect x="115.8" y="136.5" width="8.3" height="14.8" fill="#0000ff"/>
<rect x="123.8" y="136.5" width="16.3" height="14.8" fill="#0055ff"/>
<rect x="139.8" y="136.5" width="16.3" height="14.8" fill="#00aaff"/>
<rect x="155.8" y="136.5" width="16.3" height="14.8" fill="#00ffff"/>
<rect x="171.8" y="136.5" width="16.3" height="14.8" fill="#00ffaa"/>
<rect x="187.8" y="136.5" width="16.3" height="14.8" fill="#00ff55"/>
<rect x="203.8" y="136.5" width="16.3" height="14.8" fill="#00ff00"/>
<rect x="219.8" y="136.5" width="16.3" height="14.8" fill="#55ff00"/>
<rect x="235.8" y="136.5" width="16.3" height="14.8" fill="#aaff00"/>
<rect x="251.8" y="136.5" width="16.3" height="14.8" fill="#ffff00"/>
<rect x="267.8" y="136.5" width="16.3" height="14.8" fill="#ffaa00"/>
<rect x="283.8" y="136.5" width="16.3" height="14.8" fill="#ff5500"/>
<rect x="299.8" y="136.5" width="8.3" height="14.8" fill="#ff0000"/>
<path d="M123.8,136.5V151.3M139.8,136.5V151.3M155.8,136.5V151.3M171.8,136.5V151.3M187.8,136.5V151.3M203.8,136.5V151.3M219.8,136.5V151.3M235.8,136.5V151.3M251.8,136.5V151.3M267.8,136.5V151.3M283.8,136.5V151.3M299.8,136.5V151.3" stroke="#123" stroke-width="0.6" fill="none" opacity="0.85"/>
<rect x="115.8" y="136.5" width="192" height="14.8" fill="none" stroke="#334" stroke-width="0.5" opacity="0.7"/>
<text x="123.8" y="164.9" font-size="11" text-anchor="middle">-10</text>
<text x="139.8" y="164.9" font-size="11" text-anchor="middle">-8</text>
<text x="155.8" y="164.9" font-size="11" text-anchor="middle">-6</text>
<text x="171.8" y="164.9" font-size="11" text-anchor="middle">-4</text>
<text x="187.8" y="164.9" font-size="11" text-anchor="middle">-2</text>
<text x="203.8" y="164.9" font-size="11" text-anchor="middle">0</text>
<text x="219.8" y="164.9" font-size="11" text-anchor="middle">2</text>
<text x="235.8" y="164.9" font-size="11" text-anchor="middle">4</text>
<text x="251.8" y="164.9" font-size="11" text-anchor="middle">6</text>
<text x="267.8" y="164.9" font-size="11" text-anchor="middle">8</text>
<text x="283.8" y="164.9" font-size="11" text-anchor="middle">10</text>
<text x="299.8" y="164.9" font-size="11" text-anchor="middle">11</text>
<text x="109.3" y="164.9" font-size="11" text-anchor="end">w(cm/s):</text>
</g>
<g>
<clipPath id="c3"><rect x="400" y="168" width="277" height="56"/></clipPath>
<g clip-path="url(#c3)">
<rect x="400" y="168" width="277" height="56" fill="#0088ff"/>
<path d="M398.6,167.4 678.1,167.4 678.1,225.4 398.6,225.4ZM411.6,174.8 411.2,175.4 412.1,176.2 413.6,176.1 414.4,175.4 414.2,174.9 413.1,174.5Z" fill="#00ccff"/>
<path d="M398.6,167.4 678.1,167.4 678.1,225.4 398.6,225.4ZM412.1,173.8 410.6,174.3 410,174.9 410,175.9 410.5,176.4 413.1,177 414.6,176.6 415.7,175.9 415.7,174.9 415.2,174.4 413.9,173.9Z" fill="#00ffee"/>
<path d="M398.6,167.4 678.1,167.4 678.1,225.4 398.6,225.4ZM411.1,173.4 409.8,173.9 408.8,174.9 408.8,175.9 410.1,177 412.1,177.5 414.1,177.5 415.9,176.9 417.1,175.9 417.2,174.9 415.6,173.7 413.6,173.2ZM444.1,173.9 440,174.4 438.2,174.9 438,175.4 439.1,175.9 442.1,176.4 448.1,176.9 463.1,176.8 468.6,176.3 472,175.4 471.8,174.9 470,174.4 462.6,173.6 453.1,173.5Z" fill="#00ffaa"/>
<path d="M398.6,167.4 678.1,167.4 678.1,225.4 398.6,225.4ZM410.6,172.9 408.2,173.9 407.3,175.4 408.3,176.9 410.1,177.8 412.6,178.1 415.6,177.8 417.9,176.9 419.5,175.4 418.9,174.4 416.1,173.1 413.1,172.6ZM450.6,172.4 437.1,173 427.7,174.4 426.4,174.9 426.3,175.4 426.9,175.9 431.6,176.9 436.1,177.4 450.6,178.1 466.1,177.9 478.4,176.9 482.6,176 483.8,175.4 483.6,174.9 481.1,174.1 473.6,173.1 462.6,172.5Z" fill="#00ff66"/>
<path d="M398.6,167.4 678.1,167.4 678.1,225.4 398.6,225.4ZM436.6,171.9 421.6,173 413.6,172 409.1,172.5 406.1,173.9 405.2,174.9 405.3,175.9 406.2,176.9 408.1,177.9 412.1,178.8 415.1,178.6 421.6,177.6 445.6,179 470.1,178.8 489.2,177.4 495.2,176.4 496.8,175.9 497.4,175.4 497.2,174.9 495.9,174.4 490.8,173.4 475.6,172 456.1,171.4ZM601.6,175.3 601.2,175.4 601.9,175.9 603.1,176 605.1,175.9 605.7,175.4Z" fill="#00ff22"/>
<path d="M398.6,167.4 678.1,167.4 678.1,225.4 398.6,225.4 398.6,177.8 403.6,178.2 412.1,179.5 421.1,179.2 442.6,180 460.6,180.1 481.1,179.5 514.1,177.4 530.1,177 542.6,177.1 569.6,178.3 614.6,178.4 625.1,177.4 637.1,177.2 638.6,176.8 639.4,175.4 638.6,174.2 637.1,173.8 624.6,173.7 607.1,172.6 569.6,172.6 543.1,173.6 530.6,173.7 515.6,173.2 480.1,171 460.6,170.5 441.6,170.6 420.6,171.5 412.1,171.2 403.6,172.5 398.6,172.9ZM654.1,174.8 653.4,175.4 653.4,175.9 654.1,176.5 655.1,176.5 655.6,175.9 655.6,175.4 655.1,174.9Z" fill="#22ff00"/>
<path d="M398.6,167.4 678.1,167.4 678.1,225.4 398.6,225.4 398.6,180.2 440.1,181.2 460.1,181.3 484.6,180.8 513.1,179.6 539.6,179.4 564.1,180.2 609.6,180.3 611.6,180.7 614.6,182.4 616.1,182.7 637.6,182.8 640.6,182.5 642.6,181.4 643.2,175.9 643,173.9 641.6,171.9 640.1,171.2 637.1,170.8 522.6,170.7 455.6,169.3 412.6,170 398.6,170.5ZM652.6,172.4 651.1,173.3 650.3,174.4 650.1,175.9 650.4,177.4 651.5,179.9 652.3,180.9 653.6,181.5 655.6,181.4 656.6,180.9 657.4,179.9 658.7,176.9 658.8,174.9 657.9,173.4 656.6,172.5 654.6,172Z" fill="#66ff00"/>
<path d="M398.6,167.4 420.7,167.4 398.6,167.7ZM489.3,167.4 678.1,167.4 678.1,180.7 671.6,180.9 666.6,180.2 663.6,179.3 662.1,177.9 661.9,174.4 661,172.4 659.1,170.5 657.1,169.6 654.6,169.3 652.1,169.5 647.1,171.9 646.1,171.6 642.6,168.7 638.6,167.8 525.6,167.7ZM526.8,180.9 542.1,181.1 568.6,182.7 581.1,182.1 591.6,182.8 610.1,183 611.6,184.1 612.4,185.9 614.7,209.9 615.3,211.9 616.2,212.9 617.1,213.3 619.1,213.5 678.1,213.5 678.1,225.4 398.6,225.4 398.6,182.9 404.6,182.9 410.6,181.8 416.1,181.8 425.6,183.1 436.2,183.4 437.4,183.9 437.7,184.4 439.9,194.9 440.6,196.4 441.6,197.3 444.6,198.4 459.1,201 461.1,200.7 463.1,199.6 467,196.9 468.1,195.4 468.2,194.4 467.9,192.9 464.1,184.9 464.4,183.9 465.1,183.6 480.6,183.1 509.6,181.3ZM649.4,200.9 657.6,200.5 670.1,202.2 671.1,203.4 671.7,207.9 671.1,208.6 669.6,208.7 643.1,208.7 642.4,208.4 642.1,207.4 643.2,201.9 644.6,201.1Z" fill="#aaff00"/>
<path d="M524,182.4 531.1,182.1 543.6,182.8 564.1,186 566.6,186.9 570.1,188.9 585.1,199.3 592.2,204.9 594.8,207.4 595.6,209.4 594.8,210.9 593.1,211.8 590.6,212.3 567.6,215.4 509.1,220.3 494.1,220.5 489.6,221.5 479.6,222.2 470.6,222.1 442.1,216.9 440.1,215.8 436.6,212.1 434.6,211.2 420.6,209.6 409.6,206.3 407.1,205.1 405.5,203.9 403.2,200.9 402.4,198.4 402.4,190.4 403,188.4 404.2,186.9 407.1,184.6 410.1,183.2 413.1,182.9 418.1,183.1 422.6,184.8 428.1,188.3 435.1,194.4 437.9,197.9 439.6,199.1 456.1,206.4 468.6,210.1 472.1,210.7 473.2,210.4 474.1,209.4 476.2,199.9 477.9,195.9 482.1,189.8 485.2,186.9 487.8,185.9 494.1,184.9 508.6,183.4ZM578,184.4 580.6,184 583.1,184.3 585.1,185.2 585.6,186.4 585,187.4 583.1,188.4 580.6,188.7 578.6,188.4 576.6,187.5 576,186.4 576.3,185.4Z" fill="#eeff00"/>
<path d="M525.1,183.9 532.1,183.7 545.1,184.7 549,185.9 555.2,188.9 557.1,190.1 558.9,191.9 564.9,201.4 565.6,203.9 565.4,204.9 564.6,205.9 559.1,209.7 556.1,210.8 541.1,211.6 524.1,213.1 518.1,212.7 511.6,213.8 506.6,214.3 492.1,214.1 491.4,214.4 491.5,216.9 490.9,218.4 489.8,219.4 488.6,219.7 479.1,220.5 474.6,220.3 469.6,218.9 460.1,217.7 452.1,215.9 446.1,213.6 440.6,210.5 437.6,210.2 434.6,208.5 426.6,208.9 421.1,208.1 408.1,203.5 406.6,202.3 405.2,200.4 404.3,197.9 404.3,190.9 404.8,189.4 405.9,187.9 409,185.4 411.1,184.5 415.6,184.3 418.1,184.6 421.1,185.9 428.1,190.7 433.9,195.9 436.6,199.5 440.1,201.8 443.1,204.8 451.6,208.2 461.1,213.4 472.6,213.1 481.6,211.7 482,211.4 480.6,209.8 480.1,207.9 480.3,206.9 481.2,205.4 483.6,203.8 489.1,202.3 496.6,201.3 504.6,201.2 511.1,201.7 519.1,203.3 520.6,203.2 521.2,202.4 521,201.4 514.5,194.4 513.9,192.9 514,191.4 515.9,187.4 517.7,185.4 520.1,184.5ZM498.1,190.4 501.1,190.2 503.6,190.7 505.4,191.9 505.7,193.4 504.6,194.7 502.1,195.6 499.1,195.7 496.6,195.1 494.9,193.9 494.7,192.4 495.6,191.4Z" fill="#ffcc00"/>
<path d="M408.5,191.9 410.1,191.7 416.1,192.8 424.6,195.1 434,202.4 435.6,203.2 438.1,203.6 439,204.9 438.8,206.9 438.1,207.5 434.6,206.7 426.6,207.5 423.6,207.4 420.1,206.4 414.4,203.9 413.1,203.2 411.9,201.9 408.4,194.9 407.8,192.9ZM531.5,192.4 533.1,192.1 540.1,192.2 548.6,195.5 550.1,196.5 557.1,202.9 558.2,204.4 558.2,205.4 557.1,206 554.1,206.6 543.6,207.8 531.1,206.2 530.3,205.4 530,203.9 530.3,194.4 530.6,193.3ZM473.4,214.4 477.1,214 481.1,214.4 484.9,215.4 487,216.9 486.9,217.4 485.6,217.9 479.1,218.5 467.7,216.9 466.1,216.4 465.9,215.9 466.7,215.4Z" fill="#ff8800"/>
<path d="M425.9,203.4 428.6,203.2 431.1,203.4 432.6,204.2 432.8,204.9 429.6,205.8 425.1,205.7 423.7,205.4 423.1,204.9 423.2,204.4ZM475,215.4 479.4,215.4 480.8,215.9 480.9,216.4 479.1,216.9 476.1,216.8 473.9,216.4 473.3,215.9Z" fill="#ff4400"/>
<polygon points="397.6,226.3 397.6,202.3 399.6,202.3 412.1,201.2 418.3,201.8 426.8,205.4 437.3,210.3 448.1,213.4 458.6,215.6 469.2,217 475.5,217.4 486.1,216.2 501,213.4 513.8,212.4 526.2,210.7 535.4,206.9 540.9,205.4 545.9,204.7 552,205.4 562.8,207.6 573.3,208.9 588,208.6 607.4,206.9 619.9,207.6 636.8,207.6 649,206.7 676.7,206.7 678.7,206.7 678.7,226.3" fill="#c0c0c0"/>
<polyline points="399.6,202.3 412.1,201.2 418.3,201.8 426.8,205.4 437.3,210.3 448.1,213.4 458.6,215.6 469.2,217 475.5,217.4 486.1,216.2 501,213.4 513.8,212.4 526.2,210.7 535.4,206.9 540.9,205.4 545.9,204.7 552,205.4 562.8,207.6 573.3,208.9 588,208.6 607.4,206.9 619.9,207.6 636.8,207.6 649,206.7 676.7,206.7" fill="none" stroke="#1a5a1a" stroke-width="0.7"/>
</g>
<line x1="399.6" x2="676.7" y1="168.4" y2="168.4" stroke="#1d5c3a" stroke-width="0.9" opacity="0.85"/>
<line x1="676.5" x2="676.5" y1="168.4" y2="224.3" stroke="#444" stroke-width="0.6" opacity="0.7"/>
<path d="M399.5,162.3V224.5H676.7" stroke="#3a3a3a" stroke-width="0.9" fill="none"/>
<path d="M397.6,162.3h4M398.4,166h2.6M398.4,169.7h2.6M397.6,173.4h4M398.4,177.1h2.6M398.4,180.8h2.6M397.6,184.5h4M398.4,188.2h2.6M398.4,191.9h2.6M397.6,195.6h4M398.4,199.3h2.6M398.4,203h2.6M397.6,206.7h4M398.4,210.4h2.6M398.4,214.1h2.6M397.6,217.8h4M398.4,221.5h2.6M399.6,222.5v3.8M404.2,223.3v2.8M408.8,223.3v2.8M413.5,223.3v2.8M418.1,223.3v2.8M422.7,223.3v2.8M427.3,222.5v3.8M431.9,223.3v2.8M436.5,223.3v2.8M441.2,223.3v2.8M445.8,223.3v2.8M450.4,223.3v2.8M455,222.5v3.8M459.6,223.3v2.8M464.3,223.3v2.8M468.9,223.3v2.8M473.5,223.3v2.8M478.1,223.3v2.8M482.7,222.5v3.8M487.3,223.3v2.8M492,223.3v2.8M496.6,223.3v2.8M501.2,223.3v2.8M505.8,223.3v2.8M510.4,222.5v3.8M515.1,223.3v2.8M519.7,223.3v2.8M524.3,223.3v2.8M528.9,223.3v2.8M533.5,223.3v2.8M538.1,222.5v3.8M542.8,223.3v2.8M547.4,223.3v2.8M552,223.3v2.8M556.6,223.3v2.8M561.2,223.3v2.8M565.9,222.5v3.8M570.5,223.3v2.8M575.1,223.3v2.8M579.7,223.3v2.8M584.3,223.3v2.8M589,223.3v2.8M593.6,222.5v3.8M598.2,223.3v2.8M602.8,223.3v2.8M607.4,223.3v2.8M612,223.3v2.8M616.7,223.3v2.8M621.3,222.5v3.8M625.9,223.3v2.8M630.5,223.3v2.8M635.1,223.3v2.8M639.8,223.3v2.8M644.4,223.3v2.8M649,222.5v3.8M653.6,223.3v2.8M658.2,223.3v2.8M662.8,223.3v2.8M667.5,223.3v2.8M672.1,223.3v2.8M676.7,222.5v3.8" stroke="#222" stroke-width="0.85" fill="none"/>
<text x="396" y="166.1" font-size="11.5" text-anchor="end">20</text>
<text x="396" y="177.2" font-size="11.5" text-anchor="end">15</text>
<text x="396" y="188.3" font-size="11.5" text-anchor="end">10</text>
<text x="396" y="199.4" font-size="11.5" text-anchor="end">5</text>
<text x="396" y="210.5" font-size="11.5" text-anchor="end">0</text>
<text x="396" y="221.6" font-size="11.5" text-anchor="end">-5</text>
<text x="399.6" y="232.6" font-size="11.5" text-anchor="middle">0</text>
<text x="427.3" y="232.6" font-size="11.5" text-anchor="middle">10</text>
<text x="455" y="232.6" font-size="11.5" text-anchor="middle">20</text>
<text x="482.7" y="232.6" font-size="11.5" text-anchor="middle">30</text>
<text x="510.4" y="232.6" font-size="11.5" text-anchor="middle">40</text>
<text x="538.1" y="232.6" font-size="11.5" text-anchor="middle">50</text>
<text x="565.9" y="232.6" font-size="11.5" text-anchor="middle">60</text>
<text x="593.6" y="232.6" font-size="11.5" text-anchor="middle">70</text>
<text x="621.3" y="232.6" font-size="11.5" text-anchor="middle">80</text>
<text x="649" y="232.6" font-size="11.5" text-anchor="middle">90</text>
<text x="677.7" y="232.6" font-size="11.5" text-anchor="middle">100</text>
<text transform="translate(381,193) rotate(-90)" font-size="12" font-weight="bold" text-anchor="middle">Z(cm)</text>
<text x="538.2" y="241.6" font-size="12.3" font-weight="bold" text-anchor="middle">B(cm)</text>
<rect x="542.2" y="137" width="5.1" height="16" fill="#0000ff"/>
<rect x="547" y="137" width="9.1" height="16" fill="#0044ff"/>
<rect x="555.8" y="137" width="9.1" height="16" fill="#0088ff"/>
<rect x="564.6" y="137" width="9.1" height="16" fill="#00ccff"/>
<rect x="573.3" y="137" width="9.1" height="16" fill="#00ffee"/>
<rect x="582.1" y="137" width="9.1" height="16" fill="#00ffaa"/>
<rect x="590.9" y="137" width="9.1" height="16" fill="#00ff66"/>
<rect x="599.7" y="137" width="9.1" height="16" fill="#00ff22"/>
<rect x="608.5" y="137" width="9.1" height="16" fill="#22ff00"/>
<rect x="617.2" y="137" width="9.1" height="16" fill="#66ff00"/>
<rect x="626" y="137" width="9.1" height="16" fill="#aaff00"/>
<rect x="634.8" y="137" width="9.1" height="16" fill="#eeff00"/>
<rect x="643.6" y="137" width="9.1" height="16" fill="#ffcc00"/>
<rect x="652.3" y="137" width="9.1" height="16" fill="#ff8800"/>
<rect x="661.1" y="137" width="9.1" height="16" fill="#ff4400"/>
<rect x="669.9" y="137" width="5.1" height="16" fill="#ff0000"/>
<path d="M547,137V153M564.6,137V153M582.1,137V153M599.7,137V153M617.2,137V153M634.8,137V153M652.3,137V153M669.9,137V153" stroke="#123" stroke-width="0.6" fill="none" opacity="0.85"/>
<rect x="542.2" y="137" width="132.5" height="16" fill="none" stroke="#334" stroke-width="0.5" opacity="0.7"/>
<text x="547" y="165.3" font-size="11" text-anchor="middle">-17</text>
<text x="564.6" y="165.3" font-size="11" text-anchor="middle">-14</text>
<text x="582.1" y="165.3" font-size="11" text-anchor="middle">-10</text>
<text x="599.7" y="165.3" font-size="11" text-anchor="middle">-6</text>
<text x="617.2" y="165.3" font-size="11" text-anchor="middle">-2</text>
<text x="634.8" y="165.3" font-size="11" text-anchor="middle">2</text>
<text x="652.3" y="165.3" font-size="11" text-anchor="middle">6</text>
<text x="669.9" y="165.3" font-size="11" text-anchor="middle">9</text>
<text x="530.3" y="165.3" font-size="11" text-anchor="end">w(cm/s):</text>
</g>
<g>
<clipPath id="c4"><rect x="28" y="306" width="278" height="55"/></clipPath>
<g clip-path="url(#c4)">
<rect x="28" y="306" width="278" height="55" fill="#0049ff"/>
<path d="M26.7,304.6 307.2,304.6 307.2,362.6 26.7,362.6ZM276.7,310.6 274.2,311.1 273.2,311.8 272.9,312.6 273.2,313.1 274.2,313.8 276.2,314.3 278.7,314.2 280.7,313.6 281.6,312.6 281.1,311.6 280.3,311.1Z" fill="#0092ff"/>
<path d="M26.7,304.6 307.2,304.6 307.2,362.6 26.7,362.6ZM276.2,309.6 273.2,310.2 270.9,311.6 270.8,313.1 272.7,314.6 275.7,315.3 279.2,315.2 282.2,314.4 283.7,313.1 283.6,311.6 282.2,310.5 279.7,309.8Z" fill="#00dbff"/>
<path d="M26.7,304.6 307.2,304.6 307.2,362.6 26.7,362.6ZM103.2,310.6 97.7,311.6 96.8,312.1 96.6,312.6 98.3,313.6 103.2,314.5 109.7,314.8 116.2,314.5 121.7,313.6 123.4,312.6 123.2,312.1 122.3,311.6 117.2,310.6 110.2,310.3ZM207.2,311.1 204.7,311.6 203.1,312.6 203.1,313.1 203.7,313.7 206.7,314.7 210.7,315 214.7,314.8 218.1,314.1 219.5,313.1 218.9,312.1 215.7,311.1 211.7,310.8ZM275.2,308.6 271.7,309.3 266.9,311.6 266.8,312.1 267.6,313.1 271.2,315.4 275.2,316.3 280.2,316.2 284.2,315 285.5,314.1 286.2,313.1 286.3,312.1 285.7,311.1 283.5,309.6 279.7,308.6ZM216.7,331.6 210.7,332.6 208.2,333.6 206.9,334.6 206.2,335.6 206.1,337.1 207.4,338.6 209.2,339.6 214.7,341 221.7,341 224.7,340.4 227.2,339.5 228.7,338.5 229.8,337.1 229.9,336.1 229.5,335.1 228.5,334.1 226.7,333.1 222.2,331.9Z" fill="#00ffdb"/>
<path d="M26.7,304.6 307.2,304.6 307.2,362.6 26.7,362.6ZM105.2,309.1 95.2,310 91.7,310.8 89.7,311.7 89.1,312.6 90.2,313.7 93.2,314.8 97.7,315.6 108.7,316.3 119.7,315.9 127.9,314.6 130.5,313.6 131.2,312.6 130.4,311.6 129.3,311.1 123.2,309.8 114.7,309.1ZM198.7,307 197.5,307.6 197,308.6 197.7,312.6 202.5,321.1 206.1,326.1 206.6,327.6 206.4,328.6 205.6,329.6 200.7,333.5 199.2,335.3 198,339.1 198.1,342.6 199.7,344.7 207.2,350.1 211,352.1 214.2,352.7 230.2,353.3 232.9,353.1 236.9,351.1 242.2,346.8 243,345.6 243.6,343.6 244.4,334.1 244.1,331.6 242.5,325.6 242.4,323.1 243.8,319.1 244.7,317.9 245.7,317.2 254.7,315.5 261.2,314.9 265.2,315.5 273.2,317.8 280.2,317.9 283.7,317.3 286.7,316.2 288.7,314.6 289.4,313.1 288.9,311.1 286.7,308.8 284.2,307.7 279.2,306.9 274.7,306.9 268.7,307.9 263.7,306.7Z" fill="#00ff92"/>
<path d="M26.7,304.6 190.5,304.6 190.6,312.6 192,320.1 191.8,328.6 195.2,342.1 196.3,344.6 198.7,346.8 205.2,351.6 208.2,353.4 210.7,354.5 213.7,355 231.7,355.8 240.2,354.6 263.7,349.1 268.2,347.1 276.6,341.6 280.2,339 282.6,336.6 288.7,327.7 290.2,326.6 293.2,325.7 294.6,323.6 295.4,320.1 295.2,315.6 294.7,311.6 292.9,304.6 307.2,304.6 307.2,362.6 26.7,362.6ZM106.7,307.6 98.2,308 90.2,308.9 84.8,310.1 81.7,311.6 81.4,312.1 81.5,313.1 83.7,314.7 88.7,316.5 95.2,317.8 101.2,318.5 108.7,318.9 122.7,318.3 129.2,317.4 134.7,316.2 138.8,314.6 140.3,313.1 140,312.1 138.2,310.9 135.2,309.9 130.7,309 119.7,307.8Z" fill="#00ff49"/>
<path d="M26.7,304.6 103.9,304.6 90.7,305.4 80.2,307 76.2,308.2 73.7,309.4 72.5,310.6 72.4,312.1 73.7,313.6 77,315.6 86.2,319.6 94.2,322.6 103.2,324.7 113.2,325.3 130.2,324.5 137.2,323.6 142.2,322.4 145.7,321 149.2,318.8 154.3,314.6 155.6,312.6 155.2,311.1 153.7,310 150.7,308.8 145.7,307.5 132.2,305.5 117.8,304.6 186.2,304.6 186.4,311.6 188.2,320.1 187.7,329.6 188.8,334.6 191.1,341.6 193.2,345.4 195.7,348.1 203.2,354 207.2,356.4 212.7,357.7 235.7,359.4 242.7,358.3 262.7,353.7 265.7,352.9 269.2,351.3 281.2,343.5 285.1,340.1 288.7,335.4 290.2,334.5 290.9,335.1 291.4,336.1 292.2,342.1 293.2,343.5 295.2,343.8 307.2,343.8 307.2,362.6 26.7,362.6Z" fill="#00ff00"/>
<path d="M26.7,304.6 51,304.6 55.7,306.9 63.5,312.1 68.1,314.6 82.2,320.8 95.9,327.6 112.4,334.1 114.6,335.6 115.1,336.6 114.9,337.1 112.7,338.2 107.2,338.8 94.7,338.9 85.7,338.4 75.7,336.8 54.9,331.6 36.7,330.3 31.7,329.5 27.7,328.3 26.7,327.9ZM171.9,315.6 178.7,315.7 180.7,316.1 182.7,317.1 184,318.6 184.6,320.6 184.3,322.6 183.5,324.1 182.2,325.3 180.7,326 173.7,326.9 167.2,326.3 164.2,325.5 162.2,324.5 160.8,323.1 160.5,322.1 160.7,320.6 161.9,319.1 163.7,317.9 166.2,316.8Z" fill="#49ff00"/>
<path d="M36.6,305.6 42.2,305.8 48.7,307.8 60.4,314.1 73.2,319 80.2,322.1 91.1,328.1 100.9,332.6 102.4,333.6 102.9,334.6 102.5,335.1 100.9,335.6 95.2,336 86.7,335.5 79.2,334.5 71.7,332.9 56.7,328 44.2,325.2 38.2,323.3 34.7,321.4 31.9,319.1 30.2,316.6 29.3,313.6 29.5,310.6 31,308.1 33.2,306.6Z" fill="#92ff00"/>
<path d="M37.4,307.6 42.2,307.6 47.7,309.3 59.2,316 71.3,320.1 78.1,323.1 92,331.1 93.5,332.6 93.3,333.1 92.2,333.4 88.7,333.7 83.2,333.3 77.2,332.3 69.2,330.2 56.7,325.5 46.2,323.4 41.2,321.8 38.2,320.2 35.7,318.3 33.8,316.1 32.9,314.1 32.7,312.1 33.3,310.1 34.8,308.6Z" fill="#dbff00"/>
<path d="M38.5,309.1 42.7,309.1 47.4,310.6 50.9,312.6 58.7,318.4 61.2,319.4 69.9,321.6 76.7,324.6 82.6,328.6 83.7,329.6 84,330.1 83.8,330.6 80.7,330.9 75.5,330.1 69,328.1 58.2,323.3 47.2,322 41.7,320.3 37.6,317.6 36.3,316.1 35.2,314.1 35,312.6 35.5,311.1 36.7,309.8Z" fill="#ffdb00"/>
<path d="M39.1,310.6 41.2,310.2 43.7,310.5 46.2,311.3 48.6,312.6 51.2,314.6 53.1,316.6 54.1,318.6 53.8,319.6 51.7,320.6 48.2,320.7 44.7,320 41.2,318.5 38.7,316.6 37.2,314.1 37.4,312.1 38.2,311.1Z" fill="#ff9200"/>
<path d="M40.3,312.1 41.7,311.7 43.2,311.7 47,313.1 49.9,315.6 50.6,317.1 50.4,318.1 49.2,318.9 47.2,319.1 44.7,318.6 42.3,317.6 40.4,316.1 39.4,314.6 39.4,313.1Z" fill="#ff4900"/>
<path d="M42.3,314.1 43.7,313.7 45.3,314.1 47,315.6 46.9,316.6 45.7,317 43.7,316.4 42.3,315.1Z" fill="#ff0000"/>
<polygon points="25.7,363.2 25.7,327.2 27.7,327.2 54.7,327.2 67.2,330.8 80,332.9 94.7,335 109.8,336.6 124.5,336.6 139.3,337.5 152.1,336.2 162.9,335.7 171.5,337.2 184,342 196.8,347.8 209.6,352 220.2,354 230.8,355.2 243.3,354 256.1,351.4 268.9,348.4 281.4,345.5 292,344 305.9,343.5 307.9,343.5 307.9,363.2" fill="#c0c0c0"/>
<polyline points="27.7,327.2 54.7,327.2 67.2,330.8 80,332.9 94.7,335 109.8,336.6 124.5,336.6 139.3,337.5 152.1,336.2 162.9,335.7 171.5,337.2 184,342 196.8,347.8 209.6,352 220.2,354 230.8,355.2 243.3,354 256.1,351.4 268.9,348.4 281.4,345.5 292,344 305.9,343.5" fill="none" stroke="#1a5a1a" stroke-width="0.7"/>
</g>
<line x1="27.7" x2="305.9" y1="305.6" y2="305.6" stroke="#1d5c3a" stroke-width="0.9" opacity="0.85"/>
<line x1="305.5" x2="305.5" y1="305.6" y2="361.2" stroke="#444" stroke-width="0.6" opacity="0.7"/>
<path d="M27.5,299.5V361.5H305.9" stroke="#3a3a3a" stroke-width="0.9" fill="none"/>
<path d="M25.7,299.5h4M26.5,303.2h2.6M26.5,306.9h2.6M25.7,310.7h4M26.5,314.4h2.6M26.5,318.1h2.6M25.7,321.9h4M26.5,325.6h2.6M26.5,329.3h2.6M25.7,333h4M26.5,336.8h2.6M26.5,340.5h2.6M25.7,344.2h4M26.5,347.9h2.6M26.5,351.6h2.6M25.7,355.4h4M26.5,359.1h2.6M27.7,359.4v3.8M32.3,360.2v2.8M37,360.2v2.8M41.6,360.2v2.8M46.2,360.2v2.8M50.9,360.2v2.8M55.5,359.4v3.8M60.2,360.2v2.8M64.8,360.2v2.8M69.4,360.2v2.8M74.1,360.2v2.8M78.7,360.2v2.8M83.3,359.4v3.8M88,360.2v2.8M92.6,360.2v2.8M97.2,360.2v2.8M101.9,360.2v2.8M106.5,360.2v2.8M111.2,359.4v3.8M115.8,360.2v2.8M120.4,360.2v2.8M125.1,360.2v2.8M129.7,360.2v2.8M134.3,360.2v2.8M139,359.4v3.8M143.6,360.2v2.8M148.3,360.2v2.8M152.9,360.2v2.8M157.5,360.2v2.8M162.2,360.2v2.8M166.8,359.4v3.8M171.4,360.2v2.8M176.1,360.2v2.8M180.7,360.2v2.8M185.3,360.2v2.8M190,360.2v2.8M194.6,359.4v3.8M199.3,360.2v2.8M203.9,360.2v2.8M208.5,360.2v2.8M213.2,360.2v2.8M217.8,360.2v2.8M222.4,359.4v3.8M227.1,360.2v2.8M231.7,360.2v2.8M236.3,360.2v2.8M241,360.2v2.8M245.6,360.2v2.8M250.3,359.4v3.8M254.9,360.2v2.8M259.5,360.2v2.8M264.2,360.2v2.8M268.8,360.2v2.8M273.4,360.2v2.8M278.1,359.4v3.8M282.7,360.2v2.8M287.4,360.2v2.8M292,360.2v2.8M296.6,360.2v2.8M301.3,360.2v2.8M305.9,359.4v3.8" stroke="#222" stroke-width="0.85" fill="none"/>
<text x="24.1" y="303.3" font-size="11.5" text-anchor="end">20</text>
<text x="24.1" y="314.5" font-size="11.5" text-anchor="end">15</text>
<text x="24.1" y="325.6" font-size="11.5" text-anchor="end">10</text>
<text x="24.1" y="336.8" font-size="11.5" text-anchor="end">5</text>
<text x="24.1" y="348" font-size="11.5" text-anchor="end">0</text>
<text x="24.1" y="359.2" font-size="11.5" text-anchor="end">-5</text>
<text x="27.7" y="369.6" font-size="11.5" text-anchor="middle">0</text>
<text x="55.5" y="369.6" font-size="11.5" text-anchor="middle">10</text>
<text x="83.3" y="369.6" font-size="11.5" text-anchor="middle">20</text>
<text x="111.2" y="369.6" font-size="11.5" text-anchor="middle">30</text>
<text x="139" y="369.6" font-size="11.5" text-anchor="middle">40</text>
<text x="166.8" y="369.6" font-size="11.5" text-anchor="middle">50</text>
<text x="194.6" y="369.6" font-size="11.5" text-anchor="middle">60</text>
<text x="222.4" y="369.6" font-size="11.5" text-anchor="middle">70</text>
<text x="250.3" y="369.6" font-size="11.5" text-anchor="middle">80</text>
<text x="278.1" y="369.6" font-size="11.5" text-anchor="middle">90</text>
<text x="306.9" y="369.6" font-size="11.5" text-anchor="middle">100</text>
<text transform="translate(9.3,330) rotate(-90)" font-size="12" font-weight="bold" text-anchor="middle">Z(cm)</text>
<text x="167.2" y="377.8" font-size="12.3" font-weight="bold" text-anchor="middle">B(cm)</text>
<rect x="143.6" y="273.6" width="6.1" height="16.7" fill="#0000ff"/>
<rect x="149.4" y="273.6" width="11.4" height="16.7" fill="#0049ff"/>
<rect x="160.5" y="273.6" width="11.4" height="16.7" fill="#0092ff"/>
<rect x="171.5" y="273.6" width="11.4" height="16.7" fill="#00dbff"/>
<rect x="182.6" y="273.6" width="11.4" height="16.7" fill="#00ffdb"/>
<rect x="193.7" y="273.6" width="11.4" height="16.7" fill="#00ff92"/>
<rect x="204.7" y="273.6" width="11.4" height="16.7" fill="#00ff49"/>
<rect x="215.8" y="273.6" width="11.4" height="16.7" fill="#00ff00"/>
<rect x="226.9" y="273.6" width="11.4" height="16.7" fill="#49ff00"/>
<rect x="238" y="273.6" width="11.4" height="16.7" fill="#92ff00"/>
<rect x="249" y="273.6" width="11.4" height="16.7" fill="#dbff00"/>
<rect x="260.1" y="273.6" width="11.4" height="16.7" fill="#ffdb00"/>
<rect x="271.2" y="273.6" width="11.4" height="16.7" fill="#ff9200"/>
<rect x="282.2" y="273.6" width="11.4" height="16.7" fill="#ff4900"/>
<rect x="293.3" y="273.6" width="6.1" height="16.7" fill="#ff0000"/>
<path d="M149.4,273.6V290.3M160.5,273.6V290.3M171.5,273.6V290.3M182.6,273.6V290.3M193.7,273.6V290.3M204.7,273.6V290.3M215.8,273.6V290.3M226.9,273.6V290.3M238,273.6V290.3M249,273.6V290.3M260.1,273.6V290.3M271.2,273.6V290.3M282.2,273.6V290.3M293.3,273.6V290.3" stroke="#123" stroke-width="0.6" fill="none" opacity="0.85"/>
<rect x="143.6" y="273.6" width="155.5" height="16.7" fill="none" stroke="#334" stroke-width="0.5" opacity="0.7"/>
<text x="149.4" y="301.9" font-size="11" text-anchor="middle">-6</text>
<text x="160.5" y="301.9" font-size="11" text-anchor="middle">-5</text>
<text x="171.5" y="301.9" font-size="11" text-anchor="middle">-4</text>
<text x="182.6" y="301.9" font-size="11" text-anchor="middle">-3</text>
<text x="193.7" y="301.9" font-size="11" text-anchor="middle">-2</text>
<text x="204.7" y="301.9" font-size="11" text-anchor="middle">-1</text>
<text x="215.8" y="301.9" font-size="11" text-anchor="middle">0</text>
<text x="226.9" y="301.9" font-size="11" text-anchor="middle">1</text>
<text x="238" y="301.9" font-size="11" text-anchor="middle">2</text>
<text x="249" y="301.9" font-size="11" text-anchor="middle">3</text>
<text x="260.1" y="301.9" font-size="11" text-anchor="middle">4</text>
<text x="271.2" y="301.9" font-size="11" text-anchor="middle">5</text>
<text x="282.2" y="301.9" font-size="11" text-anchor="middle">6</text>
<text x="293.3" y="301.9" font-size="11" text-anchor="middle">7</text>
<text x="135.9" y="301.9" font-size="11" text-anchor="end">w(cm/s):</text>
</g>
<g>
<clipPath id="c5"><rect x="400" y="305" width="277" height="56"/></clipPath>
<g clip-path="url(#c5)">
<rect x="400" y="305" width="277" height="56" fill="#0000ff"/>
<path d="M398.6,304.3 678.1,304.3 678.1,362.3 398.6,362.3ZM652.1,311.8 647.1,312.3 648.6,312.9 664.1,313.5 665.6,313.3 666,312.8 665.5,311.8 664.1,311.4Z" fill="#0080ff"/>
<path d="M398.6,304.3 678.1,304.3 678.1,362.3 398.6,362.3ZM429.6,311.3 428.8,311.8 428.7,312.8 429.6,313.6 431.1,313.9 472.6,313.9 474.1,313.6 474.8,312.8 474.8,312.3 474.1,311.6 472.1,311.2ZM588.1,311.3 584.1,311.7 582.1,312.3 581.8,312.8 582.7,313.3 585.6,313.9 594.1,314 598.1,313.5 599.6,312.8 599.3,312.3 598.6,312 596.1,311.5ZM659.1,310.3 638.6,311.2 637.3,311.8 636.9,312.8 637.6,313.6 639.1,314 666.1,314.7 667.4,314.3 668.1,313.3 667.8,312.3 666.4,310.8 664.6,310.2Z" fill="#00ffff"/>
<path d="M398.6,304.3 678.1,304.3 678.1,362.3 398.6,362.3ZM428.6,310.1 427.6,310.7 427.3,311.3 427.4,312.8 428,313.8 430.1,314.9 432.6,315.2 556.6,315.1 564.6,315.8 595.6,315.9 601.1,315.7 604.6,315.2 607.2,314.3 608.8,312.8 608.6,311.9 608.1,311.4 605.6,310.6 595.1,310ZM646.1,309.8 631,310.3 626.6,311.2 625.5,312.3 625.7,313.3 626.3,313.8 628.6,314.9 632.1,315.6 668.1,316.2 671.1,315.1 672.1,314.1 672.6,312.8 672.2,311.3 671.1,310.5 665.6,309.4Z" fill="#00ff80"/>
<path d="M398.6,304.3 678.1,304.3 678.1,316.5 676.6,316.1 675.8,315.3 675.4,311.3 674.9,310.3 674.1,309.6 671.1,308.4 665.6,308.1 629.6,308.4 623.5,309.3 617.1,311.4 612.7,309.8 608.6,308.9 603.6,308.4 595.6,308.2 430.6,308.2 428.1,308.5 426.6,309 425.9,309.8 425.7,310.8 426.1,313.3 427.3,314.8 431.1,316.8 434.1,317.5 557.1,317.5 559.6,317.9 564.6,319.8 568.1,320.2 603.1,320.1 617.1,319.7 624.6,319.9 630.6,319.4 644.1,319.4 648.6,320.1 678.1,319.9 678.1,362.3 398.6,362.3ZM616,313.8 617.1,313.4 618.1,313.7 619,314.8 619,315.3 617.6,316 616,315.8 615.3,315.3 615.3,314.8Z" fill="#00ff00"/>
<path d="M404.6,306.8 415.1,306.7 423.1,307.9 423.8,308.8 423.8,312.8 425.6,315.8 427.1,316.9 432.1,319.5 434.1,320.1 560.1,320.4 563.7,321.8 571.1,328 572.1,329.3 572.4,330.3 572,331.3 567.1,335.7 566.5,336.8 566.4,337.8 567.3,339.8 574.8,351.8 576.1,353.5 577.6,354.3 580.6,354.6 678.1,354.6 678.1,362.3 398.6,362.3 398.6,325.5 400.1,326.1 401.8,325.8 403.1,324.3 403.4,322.8 402.9,321.3 401.6,320.2 400.1,319.9 398.6,320.6 398.6,307.6 402.1,307.5ZM630.9,321.3 633.6,320.9 642.6,320.9 644.1,321.2 644.4,321.8 641.8,324.8 640.1,325.5 632.8,322.8 631,321.8ZM652.6,322.3 678.1,322.2 678.1,347.1 667.1,345.5 665.1,344.6 657.1,332.9 650.5,328.8 649.5,327.8 649.3,326.3 650.2,324.3 651.4,322.8ZM572.2,336.8 578.6,336.6 582.6,337 588.6,337.1 589.6,337.3 590.2,338.3 588.6,342.5 587.1,343.9 582.6,344 575.6,343.5 574.1,342.9 573,341.3 571.7,337.8Z" fill="#80ff00"/>
<path d="M404.9,308.3 407.6,307.9 413.6,307.8 417.1,308.5 418.2,309.3 421.1,312.7 425.5,318.8 424.6,319.4 421.6,319.6 412.6,319.5 410.6,319.1 409.6,318 404.9,309.8 404.5,308.8ZM416.2,322.3 418.6,321.8 422.1,322.3 430.6,327.7 431.5,328.8 431.3,329.3 428.1,330.2 426.1,330.3 424.6,329.9 416.6,323.8 416,322.8Z" fill="#ffff00"/>
<path d="M408.2,309.3 409.1,309 412.1,308.9 414.5,309.3 416.6,311.2 419.2,314.3 419.7,315.3 419.6,315.8 418.1,316.3 412.6,316.1 408.3,310.8 407.9,309.8Z" fill="#ff8000"/>
<polygon points="397.6,363 397.6,325.5 399.6,325.5 412.1,328.8 424.5,331.4 437.3,335 450,337.1 466.9,338.2 483.8,337.1 496.6,336 511.5,335 526.2,334.7 535.4,335 541.5,335.7 550.1,339.3 562.8,341 577.5,343.5 590.2,346.2 603,348.1 615.7,348.3 628.5,347.1 641.2,345.6 653.7,344.6 676.7,344.6 678.7,344.6 678.7,363" fill="#c0c0c0"/>
<polyline points="399.6,325.5 412.1,328.8 424.5,331.4 437.3,335 450,337.1 466.9,338.2 483.8,337.1 496.6,336 511.5,335 526.2,334.7 535.4,335 541.5,335.7 550.1,339.3 562.8,341 577.5,343.5 590.2,346.2 603,348.1 615.7,348.3 628.5,347.1 641.2,345.6 653.7,344.6 676.7,344.6" fill="none" stroke="#1a5a1a" stroke-width="0.7"/>
</g>
<line x1="399.6" x2="676.7" y1="305.3" y2="305.3" stroke="#1d5c3a" stroke-width="0.9" opacity="0.85"/>
<line x1="676.5" x2="676.5" y1="305.3" y2="361" stroke="#444" stroke-width="0.6" opacity="0.7"/>
<path d="M399.5,299.5V361.5H676.7" stroke="#3a3a3a" stroke-width="0.9" fill="none"/>
<path d="M397.6,299.5h4M398.4,303.2h2.6M398.4,306.8h2.6M397.6,310.5h4M398.4,314.2h2.6M398.4,317.8h2.6M397.6,321.5h4M398.4,325.2h2.6M398.4,328.8h2.6M397.6,332.5h4M398.4,336.2h2.6M398.4,339.8h2.6M397.6,343.5h4M398.4,347.2h2.6M398.4,350.8h2.6M397.6,354.5h4M398.4,358.2h2.6M399.6,359.2v3.8M404.2,360v2.8M408.8,360v2.8M413.5,360v2.8M418.1,360v2.8M422.7,360v2.8M427.3,359.2v3.8M431.9,360v2.8M436.5,360v2.8M441.2,360v2.8M445.8,360v2.8M450.4,360v2.8M455,359.2v3.8M459.6,360v2.8M464.3,360v2.8M468.9,360v2.8M473.5,360v2.8M478.1,360v2.8M482.7,359.2v3.8M487.3,360v2.8M492,360v2.8M496.6,360v2.8M501.2,360v2.8M505.8,360v2.8M510.4,359.2v3.8M515.1,360v2.8M519.7,360v2.8M524.3,360v2.8M528.9,360v2.8M533.5,360v2.8M538.1,359.2v3.8M542.8,360v2.8M547.4,360v2.8M552,360v2.8M556.6,360v2.8M561.2,360v2.8M565.9,359.2v3.8M570.5,360v2.8M575.1,360v2.8M579.7,360v2.8M584.3,360v2.8M589,360v2.8M593.6,359.2v3.8M598.2,360v2.8M602.8,360v2.8M607.4,360v2.8M612,360v2.8M616.7,360v2.8M621.3,359.2v3.8M625.9,360v2.8M630.5,360v2.8M635.1,360v2.8M639.8,360v2.8M644.4,360v2.8M649,359.2v3.8M653.6,360v2.8M658.2,360v2.8M662.8,360v2.8M667.5,360v2.8M672.1,360v2.8M676.7,359.2v3.8" stroke="#222" stroke-width="0.85" fill="none"/>
<text x="396" y="303.3" font-size="11.5" text-anchor="end">20</text>
<text x="396" y="314.3" font-size="11.5" text-anchor="end">15</text>
<text x="396" y="325.3" font-size="11.5" text-anchor="end">10</text>
<text x="396" y="336.3" font-size="11.5" text-anchor="end">5</text>
<text x="396" y="347.3" font-size="11.5" text-anchor="end">0</text>
<text x="396" y="358.3" font-size="11.5" text-anchor="end">-5</text>
<text x="399.6" y="369.4" font-size="11.5" text-anchor="middle">0</text>
<text x="427.3" y="369.4" font-size="11.5" text-anchor="middle">10</text>
<text x="455" y="369.4" font-size="11.5" text-anchor="middle">20</text>
<text x="482.7" y="369.4" font-size="11.5" text-anchor="middle">30</text>
<text x="510.4" y="369.4" font-size="11.5" text-anchor="middle">40</text>
<text x="538.1" y="369.4" font-size="11.5" text-anchor="middle">50</text>
<text x="565.9" y="369.4" font-size="11.5" text-anchor="middle">60</text>
<text x="593.6" y="369.4" font-size="11.5" text-anchor="middle">70</text>
<text x="621.3" y="369.4" font-size="11.5" text-anchor="middle">80</text>
<text x="649" y="369.4" font-size="11.5" text-anchor="middle">90</text>
<text x="677.7" y="369.4" font-size="11.5" text-anchor="middle">100</text>
<text transform="translate(381,330) rotate(-90)" font-size="12" font-weight="bold" text-anchor="middle">Z(cm)</text>
<text x="538.2" y="377.8" font-size="12.3" font-weight="bold" text-anchor="middle">B(cm)</text>
<rect x="521.2" y="273.6" width="9.1" height="17.1" fill="#0000ff"/>
<rect x="530" y="273.6" width="17.9" height="17.1" fill="#0080ff"/>
<rect x="547.6" y="273.6" width="17.9" height="17.1" fill="#00ffff"/>
<rect x="565.2" y="273.6" width="17.9" height="17.1" fill="#00ff80"/>
<rect x="582.8" y="273.6" width="17.9" height="17.1" fill="#00ff00"/>
<rect x="600.3" y="273.6" width="17.9" height="17.1" fill="#80ff00"/>
<rect x="617.9" y="273.6" width="17.9" height="17.1" fill="#ffff00"/>
<rect x="635.5" y="273.6" width="17.9" height="17.1" fill="#ff8000"/>
<rect x="653.1" y="273.6" width="9.1" height="17.1" fill="#ff0000"/>
<path d="M530,273.6V290.7M547.6,273.6V290.7M565.2,273.6V290.7M582.8,273.6V290.7M600.3,273.6V290.7M617.9,273.6V290.7M635.5,273.6V290.7M653.1,273.6V290.7" stroke="#123" stroke-width="0.6" fill="none" opacity="0.85"/>
<rect x="521.2" y="273.6" width="140.7" height="17.1" fill="none" stroke="#334" stroke-width="0.5" opacity="0.7"/>
<text x="530" y="303.2" font-size="11" text-anchor="middle">-20</text>
<text x="547.6" y="303.2" font-size="11" text-anchor="middle">-15</text>
<text x="565.2" y="303.2" font-size="11" text-anchor="middle">-10</text>
<text x="582.8" y="303.2" font-size="11" text-anchor="middle">-5</text>
<text x="600.3" y="303.2" font-size="11" text-anchor="middle">0</text>
<text x="617.9" y="303.2" font-size="11" text-anchor="middle">5</text>
<text x="635.5" y="303.2" font-size="11" text-anchor="middle">10</text>
<text x="653.1" y="303.2" font-size="11" text-anchor="middle">15</text>
<text x="513.8" y="303.2" font-size="11" text-anchor="end">w(cm/s):</text>
</g>
<g>
<clipPath id="c6"><rect x="28" y="442" width="278" height="56"/></clipPath>
<g clip-path="url(#c6)">
<rect x="28" y="442" width="278" height="56" fill="#0080ff"/>
<path d="M26.7,441.5 307.2,441.5 307.2,499 26.7,499ZM51.7,446.9 51.3,448 52.1,451.5 51.7,452.5 51.2,452.9 47.7,454.5 38.2,454.8 37.4,456 37.7,457.3 39.2,457.9 48.2,458 58.7,460.4 60.2,460.3 61.5,459.5 66.2,455.6 66.4,455 66.1,454 62.2,449.6 59.7,447.4 54.2,446.7Z" fill="#00ffff"/>
<path d="M26.7,441.5 307.2,441.5 307.2,499 26.7,499ZM48.2,443.5 47,444 46.1,445 44.3,450 43.2,451.6 41.7,452.3 35.1,454 33.4,455 33,456.5 33.4,459 34.3,460 35.4,460.5 41.2,461.9 46.7,463.8 51.2,466.1 56.7,470.2 60.7,471.1 79.7,471.2 82.2,470.7 82.9,470 83.4,468.5 83.5,461 83.8,459 85.2,457.4 89.7,455.2 91.1,454 92.3,452 93.6,447.5 93,446 91.7,445.4 83.7,444.8 79.2,444.9 77.3,446 75.2,450.4 74.4,451 73.7,451.1 72,450 67.2,444.5 65.2,443.5ZM136.2,446.4 130.7,447.4 129.2,448 128.8,448.5 129,449 130.1,449.5 133.2,450.1 139.2,450.5 149.2,449 150.6,448.5 150.3,448 148.2,446.9 145.7,446.1 141.7,446Z" fill="#00ff80"/>
<path d="M26.7,441.5 41.6,441.5 42.3,447 42.3,449 42,450 40.7,450.7 32.7,452.8 31.2,452.8 26.7,451.8ZM156.6,441.5 175.5,441.5 176.2,443.4 179.1,448.5 181.2,450.6 183.2,451.3 199.7,453.5 220.6,459.5 222.7,460.8 227.2,466.7 229.2,468 240.2,469.1 246.2,469.4 247.7,468.9 248.4,466.5 249.3,465.5 251.2,464.9 253.2,465.1 254.5,466 254.8,467.5 253.9,468.5 252.1,469.5 251.6,470.5 252.7,472 258.5,477.5 259.1,479 258.2,479.9 256.7,480.2 223.7,481.3 219.2,481.7 210.2,481.8 205.7,482.2 196.7,482.3 188.2,482.8 185.2,483.3 173.7,483.5 160.2,484.2 151.7,484.1 139.2,480.2 121.7,472.5 104.7,466.1 97.2,461 95.8,459 95.5,457.5 96.2,456.6 97.7,456.1 110.7,454.5 136.7,452.9 143.7,451.5 156.7,450.8 163.2,449.9 165.6,449 165.9,448.5 165.2,447.9 162.3,447 155.2,446.1 153.5,445.5 153.2,445 153.4,444.5 155.9,442.5ZM291.2,451.5 294.2,451.3 307.2,453.2 307.2,467.7 298.2,465.8 296.2,464.6 289.5,457 288.3,455 288.6,453.5ZM29.6,460.5 40.2,462.8 45.7,464.7 48.7,466.3 50.9,468 52.1,469.5 52.4,471 51.7,471.8 50.2,472.2 45.2,471.9 38.7,470.3 33.7,468.3 29.2,465.7 27.1,463.5 26.7,462.5 27.1,461.5 28.2,460.8Z" fill="#00ff00"/>
<path d="M30.8,463 32.2,462.6 36.7,462.9 42.7,464.3 45.7,465.6 48,467 49.4,468.5 49.6,469.5 48.7,470.3 46.2,470.6 43.2,470.2 39.2,469.2 35.7,467.8 32.6,466 31,464.5 30.6,463.5ZM112.5,463.5 119.2,464.5 139.2,472.5 155.7,476.6 169.2,476.8 172.7,477.2 185.2,477.3 186.2,478 186.3,480.5 185.7,481.5 185.2,481.7 181.7,481.8 152.7,481 132.7,474.3 114.5,465.5 112.1,464Z" fill="#80ff00"/>
<path d="M33.9,464 37.2,463.7 41.7,464.6 45.9,466.5 47.1,467.5 47.6,468.5 47.4,469 46.7,469.4 45.2,469.6 39.7,468.5 36.7,467.3 34.6,466 33.7,465 33.5,464.5Z" fill="#ffff00"/>
<path d="M36.7,464.5 39.2,464.6 42.5,465.5 45.1,467 45.7,468 45.1,468.5 43.2,468.6 38.8,467.5 36.9,466.5 35.9,465.5 35.8,465Z" fill="#ff8000"/>
<path d="M38.6,465.5 41.7,466 43.2,467 42.7,467.5 40.2,467.1 38.3,466Z" fill="#ff0000"/>
<polygon points="25.7,500 25.7,464.6 27.7,464.6 37.7,467.2 48.3,469.3 56.6,470.5 77.8,469.9 92.8,470.5 109.8,472.1 122.3,475.2 135.1,478 147.9,480.1 160.4,481 170.1,481.1 184,479.4 201,478 216,478.4 232.7,479.4 258.3,479.4 277.2,480.5 305.9,480.5 307.9,480.5 307.9,500" fill="#c0c0c0"/>
<polyline points="27.7,464.6 37.7,467.2 48.3,469.3 56.6,470.5 77.8,469.9 92.8,470.5 109.8,472.1 122.3,475.2 135.1,478 147.9,480.1 160.4,481 170.1,481.1 184,479.4 201,478 216,478.4 232.7,479.4 258.3,479.4 277.2,480.5 305.9,480.5" fill="none" stroke="#1a5a1a" stroke-width="0.7"/>
</g>
<line x1="27.7" x2="305.9" y1="442.5" y2="442.5" stroke="#1d5c3a" stroke-width="0.9" opacity="0.85"/>
<line x1="305.5" x2="305.5" y1="442.5" y2="498" stroke="#444" stroke-width="0.6" opacity="0.7"/>
<path d="M27.5,435.9V498.5H305.9" stroke="#3a3a3a" stroke-width="0.9" fill="none"/>
<path d="M25.7,435.9h4M26.5,439.6h2.6M26.5,443.3h2.6M25.7,447h4M26.5,450.7h2.6M26.5,454.4h2.6M25.7,458.1h4M26.5,461.8h2.6M26.5,465.5h2.6M25.7,469.2h4M26.5,472.9h2.6M26.5,476.6h2.6M25.7,480.3h4M26.5,484h2.6M26.5,487.7h2.6M25.7,491.4h4M26.5,495.1h2.6M27.7,496.2v3.8M32.3,497v2.8M37,497v2.8M41.6,497v2.8M46.2,497v2.8M50.9,497v2.8M55.5,496.2v3.8M60.2,497v2.8M64.8,497v2.8M69.4,497v2.8M74.1,497v2.8M78.7,497v2.8M83.3,496.2v3.8M88,497v2.8M92.6,497v2.8M97.2,497v2.8M101.9,497v2.8M106.5,497v2.8M111.2,496.2v3.8M115.8,497v2.8M120.4,497v2.8M125.1,497v2.8M129.7,497v2.8M134.3,497v2.8M139,496.2v3.8M143.6,497v2.8M148.3,497v2.8M152.9,497v2.8M157.5,497v2.8M162.2,497v2.8M166.8,496.2v3.8M171.4,497v2.8M176.1,497v2.8M180.7,497v2.8M185.3,497v2.8M190,497v2.8M194.6,496.2v3.8M199.3,497v2.8M203.9,497v2.8M208.5,497v2.8M213.2,497v2.8M217.8,497v2.8M222.4,496.2v3.8M227.1,497v2.8M231.7,497v2.8M236.3,497v2.8M241,497v2.8M245.6,497v2.8M250.3,496.2v3.8M254.9,497v2.8M259.5,497v2.8M264.2,497v2.8M268.8,497v2.8M273.4,497v2.8M278.1,496.2v3.8M282.7,497v2.8M287.4,497v2.8M292,497v2.8M296.6,497v2.8M301.3,497v2.8M305.9,496.2v3.8" stroke="#222" stroke-width="0.85" fill="none"/>
<text x="24.1" y="439.7" font-size="11.5" text-anchor="end">20</text>
<text x="24.1" y="450.8" font-size="11.5" text-anchor="end">15</text>
<text x="24.1" y="461.9" font-size="11.5" text-anchor="end">10</text>
<text x="24.1" y="473" font-size="11.5" text-anchor="end">5</text>
<text x="24.1" y="484.1" font-size="11.5" text-anchor="end">0</text>
<text x="24.1" y="495.2" font-size="11.5" text-anchor="end">-5</text>
<text x="27.7" y="506.2" font-size="11.5" text-anchor="middle">0</text>
<text x="55.5" y="506.2" font-size="11.5" text-anchor="middle">10</text>
<text x="83.3" y="506.2" font-size="11.5" text-anchor="middle">20</text>
<text x="111.2" y="506.2" font-size="11.5" text-anchor="middle">30</text>
<text x="139" y="506.2" font-size="11.5" text-anchor="middle">40</text>
<text x="166.8" y="506.2" font-size="11.5" text-anchor="middle">50</text>
<text x="194.6" y="506.2" font-size="11.5" text-anchor="middle">60</text>
<text x="222.4" y="506.2" font-size="11.5" text-anchor="middle">70</text>
<text x="250.3" y="506.2" font-size="11.5" text-anchor="middle">80</text>
<text x="278.1" y="506.2" font-size="11.5" text-anchor="middle">90</text>
<text x="306.9" y="506.2" font-size="11.5" text-anchor="middle">100</text>
<text transform="translate(9.3,467) rotate(-90)" font-size="12" font-weight="bold" text-anchor="middle">Z(cm)</text>
<text x="167.2" y="514.4" font-size="12.3" font-weight="bold" text-anchor="middle">B(cm)</text>
<rect x="198.3" y="410.5" width="6.1" height="16.3" fill="#0000ff"/>
<rect x="204.1" y="410.5" width="11.3" height="16.3" fill="#0080ff"/>
<rect x="215.1" y="410.5" width="11.3" height="16.3" fill="#00ffff"/>
<rect x="226.2" y="410.5" width="11.3" height="16.3" fill="#00ff80"/>
<rect x="237.2" y="410.5" width="11.3" height="16.3" fill="#00ff00"/>
<rect x="248.2" y="410.5" width="11.3" height="16.3" fill="#80ff00"/>
<rect x="259.2" y="410.5" width="11.3" height="16.3" fill="#ffff00"/>
<rect x="270.3" y="410.5" width="11.3" height="16.3" fill="#ff8000"/>
<rect x="281.3" y="410.5" width="6.1" height="16.3" fill="#ff0000"/>
<path d="M204.1,410.5V426.8M215.1,410.5V426.8M226.2,410.5V426.8M237.2,410.5V426.8M248.2,410.5V426.8M259.2,410.5V426.8M270.3,410.5V426.8M281.3,410.5V426.8" stroke="#123" stroke-width="0.6" fill="none" opacity="0.85"/>
<rect x="198.3" y="410.5" width="88.8" height="16.3" fill="none" stroke="#334" stroke-width="0.5" opacity="0.7"/>
<text x="204.1" y="440.2" font-size="11" text-anchor="middle">-6</text>
<text x="215.1" y="440.2" font-size="11" text-anchor="middle">-4</text>
<text x="226.2" y="440.2" font-size="11" text-anchor="middle">-2</text>
<text x="237.2" y="440.2" font-size="11" text-anchor="middle">0</text>
<text x="248.2" y="440.2" font-size="11" text-anchor="middle">2</text>
<text x="259.2" y="440.2" font-size="11" text-anchor="middle">4</text>
<text x="270.3" y="440.2" font-size="11" text-anchor="middle">6</text>
<text x="281.3" y="440.2" font-size="11" text-anchor="middle">8</text>
<text x="189.9" y="440.2" font-size="11" text-anchor="end">w(cm/s):</text>
</g>
<g>
<clipPath id="c7"><rect x="400" y="442" width="277" height="56"/></clipPath>
<g clip-path="url(#c7)">
<rect x="400" y="442" width="277" height="56" fill="#0092ff"/>
<path d="M398.6,441.2 678.1,441.2 678.1,499.2 398.6,499.2ZM431.1,448.1 428.6,448.7 429,449.2 437.1,450 447.2,449.7 450,449.2 450.4,448.7 448.1,448.2 442.1,447.8ZM505.6,448.7 504.7,449.2 506.1,449.4 510.7,449.2 509.6,448.7Z" fill="#00ffdb"/>
<path d="M398.6,441.2 678.1,441.2 678.1,499.2 398.6,499.2ZM437.6,446.7 424.6,447 423.6,447.2 422.6,448.2 422.7,449.7 424.1,450.5 436.1,451 465.1,450.4 541.1,450.7 571.6,450.4 573.6,450 574.2,448.7 573.6,447.4 571.6,447.1 541.1,446.8 464.6,447.1Z" fill="#00ff49"/>
<path d="M398.6,441.2 678.1,441.2 678.1,499.2 398.6,499.2ZM412.6,444.6 411.3,445.2 410.6,446.3 410.3,448.2 410.5,451.7 411.6,453.4 414.1,453.9 624.6,453.8 627.6,453.2 632.3,451.2 634.7,449.7 635.1,448.7 634.3,447.7 632.1,446.6 626.6,444.7 623.6,444.5ZM641.6,445.6 641.1,446.2 641.1,446.7 642.5,449.7 643.5,450.7 644.6,450.9 653.6,450.9 654.6,450.1 655.4,446.7 655.1,445.8 654.1,445.5Z" fill="#49ff00"/>
<path d="M659.3,455.2 678.1,454.9 678.1,476.4 658.1,474.4 638.6,471.5 636.1,472.1 630.6,475.1 628.1,475.9 574.6,481.4 570.6,481.3 569.1,481.7 566.1,481.9 564.8,481.7 565.1,481 571.1,481 572.9,479.7 581.9,475.7 582.1,475.1 581.1,474.3 574.1,472.4 572.1,473.1 562.1,478.3 558.6,481 555.6,481.9 480.1,479.2 475.7,476.7 456.6,463.3 451,459.2 449.6,457.7 450.1,457 452.1,456.6 484.6,456.8 486.5,458.2 495.1,469.6 496.6,471 507.6,474.4 510.1,474.8 512.1,474.4 518.1,472.2 520.4,470.7 521.2,468.2 522.2,458.7 523,457.2 524.1,456.7 618.1,456.6 623.1,456.2 638.6,455.9 642.6,455.5ZM398.6,457.7 398.6,457.4 412.6,457.6 425.1,460.8 426.7,461.7 428.6,465.7 429.5,466.7 435.4,469.2 436.8,470.2 436.1,470.7 435.1,470.7 424.6,469.2 423.8,470.2 424.1,474.7 423.4,475.7 411.6,478.5 409.1,478.4 398.6,476.1Z" fill="#dbff00"/>
<path d="M469.7,466.2 472.1,465.8 482.6,466.1 490,472.7 490.9,473.7 491.1,474.6 490.1,474.8 480.1,472.9 471,467.7 469.7,466.7Z" fill="#ff9200"/>
<path d="M480.9,471.2 482.1,471 483.1,471.7 482.8,472.2 481.6,472.4 480.6,471.7Z" fill="#ff0000"/>
<polygon points="397.6,499.8 397.6,481.5 399.6,481.5 416.2,480.1 430.9,478.9 440.6,478.4 450,479.9 462.8,480.4 490.2,480.4 513.2,480 535.4,479.4 560.6,479.9 569.2,478.4 581.7,475.7 592.5,473.8 605.2,474.7 619.9,473.1 628.5,473.8 639,476.3 649.5,478.9 662.3,480.2 676.7,480.6 678.7,480.6 678.7,499.8" fill="#c0c0c0"/>
<polyline points="399.6,481.5 416.2,480.1 430.9,478.9 440.6,478.4 450,479.9 462.8,480.4 490.2,480.4 513.2,480 535.4,479.4 560.6,479.9 569.2,478.4 581.7,475.7 592.5,473.8 605.2,474.7 619.9,473.1 628.5,473.8 639,476.3 649.5,478.9 662.3,480.2 676.7,480.6" fill="none" stroke="#1a5a1a" stroke-width="0.7"/>
</g>
<line x1="399.6" x2="676.7" y1="442.2" y2="442.2" stroke="#1d5c3a" stroke-width="0.9" opacity="0.85"/>
<line x1="676.5" x2="676.5" y1="442.2" y2="497.8" stroke="#444" stroke-width="0.6" opacity="0.7"/>
<path d="M399.5,435.9V497.5H676.7" stroke="#3a3a3a" stroke-width="0.9" fill="none"/>
<path d="M397.6,435.9h4M398.4,439.6h2.6M398.4,443.3h2.6M397.6,447h4M398.4,450.7h2.6M398.4,454.4h2.6M397.6,458h4M398.4,461.7h2.6M398.4,465.4h2.6M397.6,469.1h4M398.4,472.8h2.6M398.4,476.5h2.6M397.6,480.2h4M398.4,483.9h2.6M398.4,487.6h2.6M397.6,491.3h4M398.4,495h2.6M399.6,496v3.8M404.2,496.8v2.8M408.8,496.8v2.8M413.5,496.8v2.8M418.1,496.8v2.8M422.7,496.8v2.8M427.3,496v3.8M431.9,496.8v2.8M436.5,496.8v2.8M441.2,496.8v2.8M445.8,496.8v2.8M450.4,496.8v2.8M455,496v3.8M459.6,496.8v2.8M464.3,496.8v2.8M468.9,496.8v2.8M473.5,496.8v2.8M478.1,496.8v2.8M482.7,496v3.8M487.3,496.8v2.8M492,496.8v2.8M496.6,496.8v2.8M501.2,496.8v2.8M505.8,496.8v2.8M510.4,496v3.8M515.1,496.8v2.8M519.7,496.8v2.8M524.3,496.8v2.8M528.9,496.8v2.8M533.5,496.8v2.8M538.1,496v3.8M542.8,496.8v2.8M547.4,496.8v2.8M552,496.8v2.8M556.6,496.8v2.8M561.2,496.8v2.8M565.9,496v3.8M570.5,496.8v2.8M575.1,496.8v2.8M579.7,496.8v2.8M584.3,496.8v2.8M589,496.8v2.8M593.6,496v3.8M598.2,496.8v2.8M602.8,496.8v2.8M607.4,496.8v2.8M612,496.8v2.8M616.7,496.8v2.8M621.3,496v3.8M625.9,496.8v2.8M630.5,496.8v2.8M635.1,496.8v2.8M639.8,496.8v2.8M644.4,496.8v2.8M649,496v3.8M653.6,496.8v2.8M658.2,496.8v2.8M662.8,496.8v2.8M667.5,496.8v2.8M672.1,496.8v2.8M676.7,496v3.8" stroke="#222" stroke-width="0.85" fill="none"/>
<text x="396" y="439.7" font-size="11.5" text-anchor="end">20</text>
<text x="396" y="450.8" font-size="11.5" text-anchor="end">15</text>
<text x="396" y="461.8" font-size="11.5" text-anchor="end">10</text>
<text x="396" y="472.9" font-size="11.5" text-anchor="end">5</text>
<text x="396" y="484" font-size="11.5" text-anchor="end">0</text>
<text x="396" y="495.1" font-size="11.5" text-anchor="end">-5</text>
<text x="399.6" y="505.9" font-size="11.5" text-anchor="middle">0</text>
<text x="427.3" y="505.9" font-size="11.5" text-anchor="middle">10</text>
<text x="455" y="505.9" font-size="11.5" text-anchor="middle">20</text>
<text x="482.7" y="505.9" font-size="11.5" text-anchor="middle">30</text>
<text x="510.4" y="505.9" font-size="11.5" text-anchor="middle">40</text>
<text x="538.1" y="505.9" font-size="11.5" text-anchor="middle">50</text>
<text x="565.9" y="505.9" font-size="11.5" text-anchor="middle">60</text>
<text x="593.6" y="505.9" font-size="11.5" text-anchor="middle">70</text>
<text x="621.3" y="505.9" font-size="11.5" text-anchor="middle">80</text>
<text x="649" y="505.9" font-size="11.5" text-anchor="middle">90</text>
<text x="677.7" y="505.9" font-size="11.5" text-anchor="middle">100</text>
<text transform="translate(381,467) rotate(-90)" font-size="12" font-weight="bold" text-anchor="middle">Z(cm)</text>
<text x="538.2" y="514.4" font-size="12.3" font-weight="bold" text-anchor="middle">B(cm)</text>
<rect x="541.2" y="410.5" width="9.1" height="16.5" fill="#0000ff"/>
<rect x="550" y="410.5" width="18" height="16.5" fill="#0092ff"/>
<rect x="567.7" y="410.5" width="18" height="16.5" fill="#00ffdb"/>
<rect x="585.3" y="410.5" width="18" height="16.5" fill="#00ff49"/>
<rect x="603" y="410.5" width="18" height="16.5" fill="#49ff00"/>
<rect x="620.7" y="410.5" width="18" height="16.5" fill="#dbff00"/>
<rect x="638.3" y="410.5" width="18" height="16.5" fill="#ff9200"/>
<rect x="656" y="410.5" width="9.1" height="16.5" fill="#ff0000"/>
<path d="M550,410.5V427M567.7,410.5V427M585.3,410.5V427M603,410.5V427M620.7,410.5V427M638.3,410.5V427M656,410.5V427" stroke="#123" stroke-width="0.6" fill="none" opacity="0.85"/>
<rect x="541.2" y="410.5" width="123.6" height="16.5" fill="none" stroke="#334" stroke-width="0.5" opacity="0.7"/>
<text x="550" y="439.3" font-size="11" text-anchor="middle">-19</text>
<text x="567.7" y="439.3" font-size="11" text-anchor="middle">-15</text>
<text x="585.3" y="439.3" font-size="11" text-anchor="middle">-10</text>
<text x="603" y="439.3" font-size="11" text-anchor="middle">-5</text>
<text x="620.7" y="439.3" font-size="11" text-anchor="middle">0</text>
<text x="638.3" y="439.3" font-size="11" text-anchor="middle">5</text>
<text x="656" y="439.3" font-size="11" text-anchor="middle">7</text>
<text x="534.7" y="439.3" font-size="11" text-anchor="end">w(cm/s):</text>
</g>
<text x="354.2" y="121.8" font-size="16.5">(a)</text>
<text x="351.6" y="258.2" font-size="16.5">(b)</text>
<text x="352.3" y="395.1" font-size="16.5" font-weight="bold" style="stroke-width:0">(c)</text>
<text x="351.9" y="531.1" font-size="16.5" style="stroke-width:0.45px">(d)</text>
</svg>
</body></html>
